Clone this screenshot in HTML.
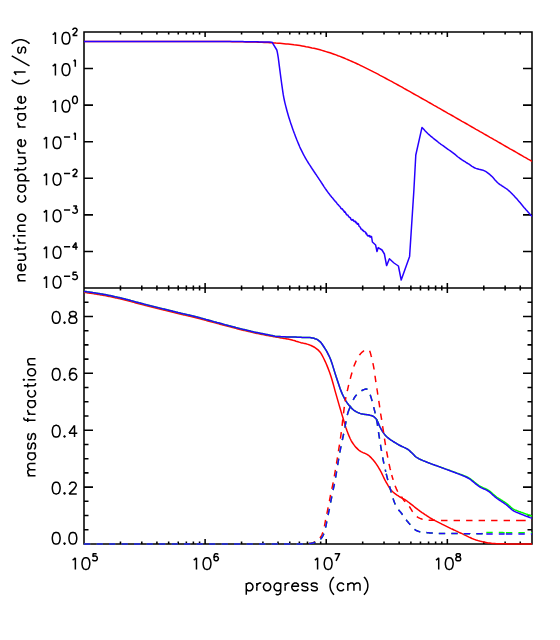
<!DOCTYPE html>
<html><head><meta charset="utf-8"><title>plot</title><style>html,body{margin:0;padding:0;background:#fff;font-family:"Liberation Sans",sans-serif}svg{display:block}</style></head><body><svg width="560" height="640" viewBox="0 0 560 640">
<rect width="560" height="640" fill="#fff"/>
<defs><clipPath id="c1"><rect x="84.0" y="32.0" width="448.0" height="256.0"/></clipPath><clipPath id="c2"><rect x="84.0" y="288.0" width="448.0" height="257.0"/></clipPath></defs>
<path d="M84.00 32.00H532.00V544.00H84.00ZM84.00 288.00H532.00M84.00 32.00v5.10M84.00 282.90v10.20M84.00 544.00v-5.10M120.46 32.00v2.56M120.46 285.44v5.12M120.46 544.00v-2.56M141.79 32.00v2.56M141.79 285.44v5.12M141.79 544.00v-2.56M156.92 32.00v2.56M156.92 285.44v5.12M156.92 544.00v-2.56M168.66 32.00v2.56M168.66 285.44v5.12M168.66 544.00v-2.56M178.25 32.00v2.56M178.25 285.44v5.12M178.25 544.00v-2.56M186.35 32.00v2.56M186.35 285.44v5.12M186.35 544.00v-2.56M193.38 32.00v2.56M193.38 285.44v5.12M193.38 544.00v-2.56M199.57 32.00v2.56M199.57 285.44v5.12M199.57 544.00v-2.56M205.11 32.00v5.10M205.11 282.90v10.20M205.11 544.00v-5.10M241.57 32.00v2.56M241.57 285.44v5.12M241.57 544.00v-2.56M262.90 32.00v2.56M262.90 285.44v5.12M262.90 544.00v-2.56M278.03 32.00v2.56M278.03 285.44v5.12M278.03 544.00v-2.56M289.77 32.00v2.56M289.77 285.44v5.12M289.77 544.00v-2.56M299.36 32.00v2.56M299.36 285.44v5.12M299.36 544.00v-2.56M307.47 32.00v2.56M307.47 285.44v5.12M307.47 544.00v-2.56M314.49 32.00v2.56M314.49 285.44v5.12M314.49 544.00v-2.56M320.69 32.00v2.56M320.69 285.44v5.12M320.69 544.00v-2.56M326.23 32.00v5.10M326.23 282.90v10.20M326.23 544.00v-5.10M362.69 32.00v2.56M362.69 285.44v5.12M362.69 544.00v-2.56M384.02 32.00v2.56M384.02 285.44v5.12M384.02 544.00v-2.56M399.15 32.00v2.56M399.15 285.44v5.12M399.15 544.00v-2.56M410.89 32.00v2.56M410.89 285.44v5.12M410.89 544.00v-2.56M420.48 32.00v2.56M420.48 285.44v5.12M420.48 544.00v-2.56M428.58 32.00v2.56M428.58 285.44v5.12M428.58 544.00v-2.56M435.61 32.00v2.56M435.61 285.44v5.12M435.61 544.00v-2.56M441.80 32.00v2.56M441.80 285.44v5.12M441.80 544.00v-2.56M447.34 32.00v5.10M447.34 282.90v10.20M447.34 544.00v-5.10M483.80 32.00v2.56M483.80 285.44v5.12M483.80 544.00v-2.56M505.13 32.00v2.56M505.13 285.44v5.12M505.13 544.00v-2.56M520.26 32.00v2.56M520.26 285.44v5.12M520.26 544.00v-2.56M532.00 32.00v2.56M532.00 285.44v5.12M532.00 544.00v-2.56M84.00 32.00h9.00M532.00 32.00h-9.00M84.00 68.57h9.00M532.00 68.57h-9.00M84.00 105.14h9.00M532.00 105.14h-9.00M84.00 141.71h9.00M532.00 141.71h-9.00M84.00 178.29h9.00M532.00 178.29h-9.00M84.00 214.86h9.00M532.00 214.86h-9.00M84.00 251.43h9.00M532.00 251.43h-9.00M84.00 288.00h9.00M532.00 288.00h-9.00M84.00 544.00h9.00M532.00 544.00h-9.00M84.00 529.78h4.50M532.00 529.78h-4.50M84.00 515.56h4.50M532.00 515.56h-4.50M84.00 501.33h4.50M532.00 501.33h-4.50M84.00 487.11h9.00M532.00 487.11h-9.00M84.00 472.89h4.50M532.00 472.89h-4.50M84.00 458.67h4.50M532.00 458.67h-4.50M84.00 444.44h4.50M532.00 444.44h-4.50M84.00 430.22h9.00M532.00 430.22h-9.00M84.00 416.00h4.50M532.00 416.00h-4.50M84.00 401.78h4.50M532.00 401.78h-4.50M84.00 387.56h4.50M532.00 387.56h-4.50M84.00 373.33h9.00M532.00 373.33h-9.00M84.00 359.11h4.50M532.00 359.11h-4.50M84.00 344.89h4.50M532.00 344.89h-4.50M84.00 330.67h4.50M532.00 330.67h-4.50M84.00 316.44h9.00M532.00 316.44h-9.00M84.00 302.22h4.50M532.00 302.22h-4.50M84.00 288.00h4.50M532.00 288.00h-4.50" fill="none" stroke="#000" stroke-width="1.55" stroke-linecap="butt" stroke-linejoin="miter"/>
<path d="M84.0 41.4L86.0 41.4L88.0 41.4L90.0 41.4L92.0 41.4L94.0 41.4L96.0 41.4L98.0 41.4L100.0 41.4L102.0 41.4L104.0 41.4L106.0 41.4L108.0 41.4L110.0 41.4L112.0 41.4L114.0 41.4L116.0 41.4L118.0 41.4L120.0 41.4L122.0 41.4L124.0 41.4L126.0 41.4L128.0 41.4L130.0 41.4L132.0 41.4L134.0 41.4L136.0 41.4L138.0 41.4L140.0 41.4L142.0 41.4L144.0 41.4L146.0 41.4L148.0 41.4L150.0 41.4L152.0 41.4L154.0 41.4L156.0 41.4L158.0 41.4L160.0 41.4L162.0 41.4L164.0 41.4L166.0 41.4L168.0 41.4L170.0 41.4L172.0 41.4L174.0 41.4L176.0 41.4L178.0 41.4L180.0 41.4L182.0 41.4L184.0 41.4L186.0 41.4L188.0 41.4L190.0 41.4L192.0 41.4L194.0 41.5L196.0 41.5L198.0 41.5L200.0 41.5L202.0 41.5L204.0 41.5L206.0 41.5L208.0 41.5L210.0 41.5L212.0 41.5L214.0 41.5L216.0 41.5L218.0 41.5L220.0 41.6L222.0 41.6L224.0 41.6L226.0 41.6L228.0 41.6L230.0 41.6L232.0 41.7L234.0 41.7L236.0 41.7L238.0 41.7L240.0 41.8L242.0 41.8L244.0 41.8L246.0 41.9L248.0 41.9L250.0 42.0L252.0 42.0L254.0 42.1L256.0 42.1L258.0 42.2L260.0 42.3L262.0 42.3L264.0 42.4L266.0 42.5L268.0 42.6L270.0 42.7L272.0 42.8L274.0 42.9L276.0 43.1L278.0 43.2L280.0 43.3L282.0 43.5L284.0 43.7L286.0 43.9L288.0 44.1L290.0 44.3L292.0 44.5L294.0 44.8L296.0 45.0L298.0 45.3L300.0 45.6L302.0 45.9L304.0 46.3L306.0 46.7L308.0 47.0L310.0 47.4L312.0 47.9L314.0 48.3L316.0 48.8L318.0 49.3L320.0 49.8L322.0 50.4L324.0 51.0L326.0 51.6L328.0 52.2L330.0 52.8L332.0 53.5L334.0 54.2L336.0 54.9L338.0 55.7L340.0 56.4L342.0 57.2L344.0 58.0L346.0 58.9L348.0 59.7L350.0 60.6L352.0 61.5L354.0 62.4L356.0 63.3L358.0 64.2L360.0 65.2L362.0 66.1L364.0 67.1L366.0 68.1L368.0 69.1L370.0 70.1L372.0 71.1L374.0 72.2L376.0 73.2L378.0 74.2L380.0 75.3L382.0 76.3L384.0 77.4L386.0 78.5L388.0 79.6L390.0 80.7L392.0 81.7L394.0 82.8L396.0 83.9L398.0 85.0L400.0 86.1L402.0 87.2L404.0 88.4L406.0 89.5L408.0 90.6L410.0 91.7L412.0 92.8L414.0 94.0L416.0 95.1L418.0 96.2L420.0 97.3L422.0 98.5L424.0 99.6L426.0 100.7L428.0 101.9L430.0 103.0L432.0 104.1L434.0 105.3L436.0 106.4L438.0 107.6L440.0 108.7L442.0 109.8L444.0 111.0L446.0 112.1L448.0 113.3L450.0 114.4L452.0 115.5L454.0 116.7L456.0 117.8L458.0 119.0L460.0 120.1L462.0 121.3L464.0 122.4L466.0 123.5L468.0 124.7L470.0 125.8L472.0 127.0L474.0 128.1L476.0 129.3L478.0 130.4L480.0 131.6L482.0 132.7L484.0 133.9L486.0 135.0L488.0 136.1L490.0 137.3L492.0 138.4L494.0 139.6L496.0 140.7L498.0 141.9L500.0 143.0L502.0 144.2L504.0 145.3L506.0 146.5L508.0 147.6L510.0 148.8L512.0 149.9L514.0 151.0L516.0 152.2L518.0 153.3L520.0 154.5L522.0 155.6L524.0 156.8L526.0 157.9L528.0 159.1L530.0 160.2L532.0 161.4" fill="none" stroke="#ff0000" stroke-width="1.50" stroke-linejoin="round" stroke-linecap="butt" clip-path="url(#c1)"/>
<path d="M84.0 41.5L85.0 41.5L86.0 41.5L87.0 41.5L88.0 41.5L89.0 41.5L90.0 41.5L91.0 41.5L92.0 41.5L93.0 41.5L94.0 41.5L95.0 41.5L96.0 41.5L97.0 41.5L98.0 41.5L99.0 41.5L100.0 41.5L101.0 41.5L102.0 41.5L103.0 41.5L104.0 41.5L105.0 41.5L106.0 41.5L107.0 41.5L108.0 41.5L109.0 41.5L110.0 41.5L111.0 41.5L112.0 41.5L113.0 41.5L114.0 41.5L115.0 41.5L116.0 41.5L117.0 41.5L118.0 41.5L119.0 41.5L120.0 41.5L121.0 41.5L122.0 41.5L123.0 41.5L124.0 41.5L125.0 41.5L126.0 41.5L127.0 41.5L128.0 41.5L129.0 41.5L130.0 41.5L131.0 41.5L132.0 41.5L133.0 41.5L134.0 41.5L135.0 41.5L136.0 41.5L137.0 41.5L138.0 41.5L139.0 41.5L140.0 41.5L141.0 41.5L142.0 41.5L143.0 41.5L144.0 41.5L145.0 41.5L146.0 41.5L147.0 41.5L148.0 41.5L149.0 41.5L150.0 41.5L151.0 41.5L152.0 41.5L153.0 41.5L154.0 41.5L155.0 41.5L156.0 41.5L157.0 41.5L158.0 41.5L159.0 41.5L160.0 41.5L161.0 41.5L162.0 41.5L163.0 41.5L164.0 41.5L165.0 41.5L166.0 41.5L167.0 41.5L168.0 41.5L169.0 41.5L170.0 41.5L171.0 41.5L172.0 41.5L173.0 41.5L174.0 41.5L175.0 41.5L176.0 41.5L177.0 41.5L178.0 41.5L179.0 41.5L180.0 41.5L181.0 41.5L182.0 41.5L183.0 41.5L184.0 41.5L185.0 41.5L186.0 41.5L187.0 41.5L188.0 41.5L189.0 41.5L190.0 41.5L191.0 41.5L192.0 41.5L193.0 41.5L194.0 41.5L195.0 41.5L196.0 41.5L197.0 41.5L198.0 41.5L199.0 41.5L200.0 41.5L201.0 41.5L202.0 41.5L203.0 41.5L204.0 41.5L205.0 41.5L206.0 41.5L207.0 41.5L208.0 41.5L209.0 41.5L210.0 41.5L211.0 41.5L212.0 41.5L213.0 41.5L214.0 41.5L215.0 41.5L216.0 41.5L217.0 41.5L218.0 41.5L219.0 41.5L220.0 41.5L221.0 41.5L222.0 41.5L223.0 41.5L224.0 41.5L225.0 41.6L226.0 41.6L227.0 41.6L228.0 41.6L229.0 41.6L230.0 41.6L231.0 41.6L232.0 41.6L233.0 41.6L234.0 41.6L235.0 41.6L236.0 41.6L237.0 41.6L238.0 41.6L239.0 41.6L240.0 41.6L241.0 41.6L242.0 41.6L243.0 41.6L244.0 41.7L245.0 41.7L246.0 41.7L247.0 41.7L248.0 41.7L249.0 41.7L250.0 41.7L251.0 41.7L252.0 41.7L253.0 41.8L254.0 41.8L255.0 41.8L256.0 41.8L257.0 41.8L258.0 41.8L259.0 41.9L260.0 41.9L261.0 41.9L262.0 41.9L263.0 41.9L264.0 42.0L265.0 42.0L266.0 42.0L267.0 42.0L268.0 42.1L269.0 42.1L270.0 42.1L271.0 42.2L272.0 42.2L276.8 50.0L277.3 52.2L277.8 54.8L278.3 58.0L278.8 61.9L279.3 65.8L279.8 69.6L280.3 73.5L280.8 77.3L281.3 81.0L281.8 84.6L282.3 88.1L282.8 91.7L283.3 94.9L283.8 97.6L284.3 100.0L284.8 102.3L285.3 104.4L285.8 106.4L286.3 108.3L286.8 110.2L287.3 112.0L287.8 113.8L288.3 115.5L288.8 117.2L289.3 118.8L289.8 120.3L290.3 121.9L290.8 123.4L291.3 124.8L291.8 126.3L292.3 127.7L292.8 129.2L293.3 130.6L293.8 131.9L294.3 133.3L294.8 134.6L295.3 135.9L295.8 137.2L296.3 138.5L296.8 139.8L297.3 141.0L297.8 142.2L298.3 143.4L298.8 144.6L299.3 145.8L299.8 147.0L300.3 148.1L300.8 149.2L301.3 150.2L301.8 151.2L302.3 152.2L302.8 153.2L303.3 154.2L303.8 155.1L304.3 156.0L304.8 156.9L305.3 157.8L305.8 158.7L306.3 159.5L306.8 160.4L307.3 161.2L307.8 162.0L308.3 162.8L308.8 163.6L309.3 164.4L309.8 165.1L310.3 165.9L310.8 166.7L311.3 167.5L311.8 168.2L312.3 169.0L312.8 169.7L313.3 170.5L313.8 171.2L314.3 172.0L314.8 172.7L315.3 173.5L315.8 174.2L316.3 174.9L316.8 175.7L317.3 176.4L317.8 177.2L318.3 177.9L318.8 178.7L319.3 179.4L319.8 180.2L320.3 180.9L320.8 181.7L321.3 182.5L321.8 183.2L322.3 184.0L322.8 184.8L323.3 185.5L323.8 186.3L324.3 187.1L324.8 187.8L325.3 188.6L325.8 189.3L326.3 190.0L326.8 190.7L327.3 191.4L327.8 192.1L328.3 192.8L328.8 193.4L329.3 194.1L329.8 194.7L330.3 195.4L330.8 196.0L331.3 196.6L331.8 197.3L332.3 197.8L332.8 198.3L333.3 199.0L333.8 199.6L334.3 200.3L334.8 200.8L335.3 201.5L335.8 201.9L336.3 202.4L336.8 203.1L337.3 204.0L337.8 204.4L338.3 204.8L338.8 205.4L339.3 206.1L339.8 206.4L340.3 207.1L340.8 208.1L341.3 208.6L341.8 209.0L342.3 208.8L342.8 209.8L343.3 210.1L343.8 211.2L344.0 210.8L344.5 212.2L345.0 211.8L345.5 212.6L346.0 214.0L346.5 214.1L347.0 215.1L347.5 215.1L348.0 215.3L348.5 216.5L349.0 216.9L349.5 217.4L350.0 217.5L350.5 217.9L351.0 219.4L351.5 219.8L352.0 220.2L352.5 219.7L353.0 219.6L353.5 220.7L354.0 221.3L354.5 221.6L355.0 221.1L355.5 221.8L356.0 222.8L356.5 222.3L357.0 223.7L357.5 224.3L358.0 223.6L358.5 224.1L359.0 226.2L359.5 226.6L360.0 226.9L360.5 227.7L361.0 229.1L361.5 229.0L362.0 229.4L362.5 230.4L363.0 230.2L363.5 231.0L364.0 231.6L364.5 231.4L365.0 231.8L365.5 232.1L366.0 233.7L366.5 233.2L367.0 235.0L367.5 235.2L368.0 236.1L368.5 236.1L369.0 235.5L369.5 235.7L370.0 237.0L370.5 236.2L371.0 237.2L371.5 236.5L371.6 237.0L372.4 242.0L375.6 245.0L377.0 251.6L378.2 247.6L382.0 250.0L384.4 254.0L386.6 265.6L389.4 258.8L394.0 263.0L398.4 266.0L401.2 280.0L409.6 256.4L413.9 190.0L415.8 155.0L422.0 127.4L423.0 128.5L424.0 129.6L425.0 130.7L426.0 131.7L427.0 132.7L428.0 133.7L429.0 134.6L430.0 135.5L431.0 136.4L432.0 137.2L433.0 138.0L434.0 138.8L435.0 139.6L436.0 140.4L437.0 141.2L438.0 142.0L439.0 142.8L440.0 143.5L441.0 144.3L442.0 145.0L443.0 145.7L444.0 146.4L445.0 147.2L446.0 147.9L447.0 148.6L448.0 149.3L449.0 150.0L450.0 150.7L451.0 151.4L452.0 152.1L453.0 152.8L454.0 153.6L455.0 154.4L456.0 155.3L457.0 156.2L458.0 157.0L459.0 157.7L460.0 158.5L461.0 159.1L462.0 159.8L463.0 160.5L464.0 161.1L465.0 161.7L466.0 162.4L467.0 163.0L468.0 163.6L469.0 164.2L470.0 164.9L471.0 165.6L472.0 166.3L473.0 166.9L474.0 167.5L475.0 168.0L476.0 168.4L477.0 168.7L478.0 169.0L479.0 169.3L480.0 169.5L481.0 169.7L482.0 169.9L483.0 170.2L484.0 170.6L485.0 171.1L486.0 171.7L487.0 172.3L488.0 173.1L489.0 173.9L490.0 174.7L491.0 175.6L492.0 176.5L493.0 177.6L494.0 178.7L495.0 179.9L496.0 181.0L497.0 182.1L498.0 183.0L499.0 183.8L500.0 184.6L501.0 185.2L502.0 185.9L503.0 186.5L504.0 187.2L505.0 187.8L506.0 188.5L507.0 189.2L508.0 190.0L509.0 190.9L510.0 191.8L511.0 192.7L512.0 193.7L513.0 194.8L514.0 195.8L515.0 196.9L516.0 198.0L517.0 199.1L518.0 200.3L519.0 201.4L520.0 202.6L521.0 203.8L522.0 205.0L523.0 206.2L524.0 207.4L525.0 208.5L526.0 209.7L527.0 210.8L528.0 211.9L529.0 213.1L530.0 214.2L531.0 215.3L532.0 216.4" fill="none" stroke="#2600ff" stroke-width="1.50" stroke-linejoin="round" stroke-linecap="butt" clip-path="url(#c1)"/>
<path d="M84.0 292.4L85.0 292.5L86.0 292.6L87.0 292.8L88.0 292.9L89.0 293.0L90.0 293.2L91.0 293.3L92.0 293.4L93.0 293.6L94.0 293.7L95.0 293.9L96.0 294.1L97.0 294.2L98.0 294.4L99.0 294.5L100.0 294.7L101.0 294.9L102.0 295.0L103.0 295.2L104.0 295.4L105.0 295.6L106.0 295.8L107.0 296.0L108.0 296.2L109.0 296.4L110.0 296.6L111.0 296.8L112.0 297.0L113.0 297.2L114.0 297.4L115.0 297.7L116.0 297.9L117.0 298.1L118.0 298.4L119.0 298.6L120.0 298.8L121.0 299.1L122.0 299.3L123.0 299.6L124.0 299.8L125.0 300.0L126.0 300.3L127.0 300.5L128.0 300.8L129.0 301.1L130.0 301.3L131.0 301.6L132.0 301.9L133.0 302.1L134.0 302.4L135.0 302.7L136.0 303.0L137.0 303.2L138.0 303.5L139.0 303.8L140.0 304.0L141.0 304.3L142.0 304.6L143.0 304.8L144.0 305.1L145.0 305.4L146.0 305.6L147.0 305.9L148.0 306.1L149.0 306.4L150.0 306.6L151.0 306.9L152.0 307.1L153.0 307.4L154.0 307.6L155.0 307.9L156.0 308.1L157.0 308.4L158.0 308.6L159.0 308.9L160.0 309.1L161.0 309.4L162.0 309.6L163.0 309.9L164.0 310.1L165.0 310.3L166.0 310.6L167.0 310.8L168.0 311.1L169.0 311.3L170.0 311.6L171.0 311.8L172.0 312.0L173.0 312.3L174.0 312.5L175.0 312.7L176.0 313.0L177.0 313.2L178.0 313.5L179.0 313.7L180.0 313.9L181.0 314.2L182.0 314.4L183.0 314.7L184.0 314.9L185.0 315.1L186.0 315.4L187.0 315.6L188.0 315.9L189.0 316.1L190.0 316.3L191.0 316.6L192.0 316.8L193.0 317.1L194.0 317.3L195.0 317.5L196.0 317.8L197.0 318.1L198.0 318.3L199.0 318.6L200.0 318.8L201.0 319.1L202.0 319.4L203.0 319.6L204.0 319.9L205.0 320.1L206.0 320.4L207.0 320.7L208.0 321.0L209.0 321.2L210.0 321.5L211.0 321.8L212.0 322.0L213.0 322.3L214.0 322.6L215.0 322.8L216.0 323.1L217.0 323.4L218.0 323.6L219.0 323.9L220.0 324.2L221.0 324.4L222.0 324.7L223.0 325.0L224.0 325.2L225.0 325.5L226.0 325.8L227.0 326.1L228.0 326.3L229.0 326.6L230.0 326.8L231.0 327.1L232.0 327.4L233.0 327.6L234.0 327.9L235.0 328.1L236.0 328.4L237.0 328.7L238.0 328.9L239.0 329.2L240.0 329.4L241.0 329.7L242.0 329.9L243.0 330.2L244.0 330.4L245.0 330.6L246.0 330.9L247.0 331.1L248.0 331.4L249.0 331.6L250.0 331.8L251.0 332.1L252.0 332.3L253.0 332.5L254.0 332.8L255.0 333.0L256.0 333.2L257.0 333.4L258.0 333.6L259.0 333.8L260.0 334.0L261.0 334.2L262.0 334.4L263.0 334.6L264.0 334.8L265.0 335.0L266.0 335.2L267.0 335.4L268.0 335.6L269.0 335.8L270.0 335.9L271.0 336.1L272.0 336.3L273.0 336.5L274.0 336.7L275.0 336.8L276.0 337.0L277.0 337.2L278.0 337.3L279.0 337.5L280.0 337.7L281.0 337.9L282.0 338.0L283.0 338.2L284.0 338.4L285.0 338.6L286.0 338.8L287.0 339.0L288.0 339.1L289.0 339.3L290.0 339.6L291.0 339.8L292.0 340.0L293.0 340.3L294.0 340.5L295.0 340.8L296.0 341.2L297.0 341.5L298.0 341.8L299.0 342.1L300.0 342.4L301.0 342.7L302.0 342.9L303.0 343.1L304.0 343.4L305.0 343.6L306.0 343.8L307.0 344.1L308.0 344.4L309.0 344.7L310.0 345.1L311.0 345.5L312.0 346.0L313.0 346.5L314.0 347.0L315.0 347.6L316.0 348.3L317.0 349.1L318.0 349.9L319.0 350.9L320.0 352.0L321.0 353.4L322.0 355.1L323.0 357.0L324.0 359.0L325.0 361.1L326.0 363.3L327.0 365.6L328.0 368.1L329.0 370.7L330.0 373.5L331.0 376.5L332.0 379.8L333.0 383.3L334.0 386.9L335.0 390.6L336.0 394.1L337.0 397.6L338.0 401.1L339.0 404.6L340.0 408.0L341.0 411.4L342.0 414.7L343.0 418.0L344.0 421.5L345.0 424.9L346.0 428.0L347.0 430.8L348.0 433.4L349.0 435.9L350.0 438.2L351.0 440.3L352.0 442.0L353.0 443.5L354.0 444.9L355.0 446.2L356.0 447.4L357.0 448.4L358.0 449.4L359.0 450.3L360.0 451.0L361.0 451.6L362.0 452.1L363.0 452.6L364.0 453.0L365.0 453.4L366.0 453.9L367.0 454.4L368.0 455.0L369.0 455.7L370.0 456.6L371.0 457.6L372.0 458.7L373.0 459.8L374.0 461.0L375.0 462.3L376.0 463.6L377.0 465.1L378.0 466.7L379.0 468.3L380.0 470.0L381.0 471.8L382.0 473.9L383.0 476.0L384.0 478.1L385.0 480.2L386.0 482.0L387.0 483.7L388.0 485.4L389.0 487.0L390.0 488.5L391.0 489.9L392.0 491.0L393.0 492.0L394.0 492.8L395.0 493.7L396.0 494.4L397.0 495.1L398.0 495.7L399.0 496.4L400.0 497.0L401.0 497.6L402.0 498.1L403.0 498.6L404.0 499.1L405.0 499.7L406.0 500.3L407.0 501.0L408.0 501.8L409.0 502.5L410.0 503.3L411.0 504.1L412.0 504.9L413.0 505.7L414.0 506.5L415.0 507.3L416.0 508.1L417.0 508.9L418.0 509.7L419.0 510.4L420.0 511.2L421.0 511.9L422.0 512.6L423.0 513.2L424.0 513.9L425.0 514.6L426.0 515.2L427.0 515.9L428.0 516.5L429.0 517.2L430.0 517.8L431.0 518.4L432.0 519.0L433.0 519.6L434.0 520.1L435.0 520.7L436.0 521.2L437.0 521.7L438.0 522.2L439.0 522.7L440.0 523.2L441.0 523.7L442.0 524.2L443.0 524.6L444.0 525.1L445.0 525.6L446.0 526.1L447.0 526.6L448.0 527.1L449.0 527.6L450.0 528.1L451.0 528.6L452.0 529.0L453.0 529.5L454.0 530.0L455.0 530.4L456.0 530.9L457.0 531.3L458.0 531.8L459.0 532.3L460.0 532.8L461.0 533.2L462.0 533.7L463.0 534.2L464.0 534.7L465.0 535.1L466.0 535.6L467.0 536.1L468.0 536.6L469.0 537.1L470.0 537.5L471.0 538.0L472.0 538.5L473.0 538.9L474.0 539.3L475.0 539.6L476.0 540.0L477.0 540.3L478.0 540.6L479.0 540.9L480.0 541.1L481.0 541.4L482.0 541.6L483.0 541.9L484.0 542.1L485.0 542.3L486.0 542.5L487.0 542.7L488.0 542.9L489.0 543.0L490.0 543.1L491.0 543.2L492.0 543.4L493.0 543.5L494.0 543.5L495.0 543.6L496.0 543.7L497.0 543.7L498.0 543.7L499.0 543.7L500.0 543.8L501.0 543.8L502.0 543.8L503.0 543.8L504.0 543.8L505.0 543.8L506.0 543.8L507.0 543.9L508.0 543.9L509.0 543.9L510.0 543.9L511.0 543.9L512.0 543.9L513.0 543.9L514.0 543.9L515.0 543.9L516.0 543.9L517.0 544.0L518.0 544.0L519.0 544.0L520.0 544.0L521.0 544.0L522.0 544.0L523.0 544.0L524.0 544.0L525.0 544.0L526.0 544.0L527.0 544.0L528.0 544.0L529.0 544.0L530.0 544.0L531.0 544.0L532.0 544.0" fill="none" stroke="#ff0000" stroke-width="1.50" stroke-linejoin="round" stroke-linecap="butt" clip-path="url(#c2)"/>
<path d="M84.0 291.4L85.0 291.5L86.0 291.6L87.0 291.8L88.0 291.9L89.0 292.0L90.0 292.2L91.0 292.3L92.0 292.4L93.0 292.6L94.0 292.7L95.0 292.9L96.0 293.1L97.0 293.2L98.0 293.4L99.0 293.5L100.0 293.7L101.0 293.9L102.0 294.0L103.0 294.2L104.0 294.4L105.0 294.6L106.0 294.8L107.0 295.0L108.0 295.2L109.0 295.4L110.0 295.6L111.0 295.8L112.0 296.0L113.0 296.2L114.0 296.4L115.0 296.7L116.0 296.9L117.0 297.1L118.0 297.4L119.0 297.6L120.0 297.8L121.0 298.1L122.0 298.3L123.0 298.6L124.0 298.8L125.0 299.0L126.0 299.3L127.0 299.5L128.0 299.8L129.0 300.1L130.0 300.3L131.0 300.6L132.0 300.9L133.0 301.1L134.0 301.4L135.0 301.7L136.0 302.0L137.0 302.2L138.0 302.5L139.0 302.8L140.0 303.0L141.0 303.3L142.0 303.6L143.0 303.8L144.0 304.1L145.0 304.4L146.0 304.6L147.0 304.9L148.0 305.1L149.0 305.4L150.0 305.6L151.0 305.9L152.0 306.1L153.0 306.4L154.0 306.6L155.0 306.9L156.0 307.1L157.0 307.4L158.0 307.6L159.0 307.9L160.0 308.1L161.0 308.4L162.0 308.6L163.0 308.9L164.0 309.1L165.0 309.3L166.0 309.6L167.0 309.8L168.0 310.1L169.0 310.3L170.0 310.6L171.0 310.8L172.0 311.0L173.0 311.3L174.0 311.5L175.0 311.7L176.0 312.0L177.0 312.2L178.0 312.5L179.0 312.7L180.0 312.9L181.0 313.2L182.0 313.4L183.0 313.7L184.0 313.9L185.0 314.1L186.0 314.4L187.0 314.6L188.0 314.9L189.0 315.1L190.0 315.3L191.0 315.6L192.0 315.8L193.0 316.1L194.0 316.3L195.0 316.5L196.0 316.8L197.0 317.1L198.0 317.3L199.0 317.6L200.0 317.8L201.0 318.1L202.0 318.4L203.0 318.6L204.0 318.9L205.0 319.2L206.0 319.5L207.0 319.7L208.0 320.0L209.0 320.3L210.0 320.6L211.0 320.8L212.0 321.1L213.0 321.4L214.0 321.7L215.0 321.9L216.0 322.2L217.0 322.5L218.0 322.7L219.0 323.0L220.0 323.3L221.0 323.6L222.0 323.8L223.0 324.1L224.0 324.4L225.0 324.7L226.0 324.9L227.0 325.2L228.0 325.5L229.0 325.8L230.0 326.0L231.0 326.3L232.0 326.6L233.0 326.8L234.0 327.1L235.0 327.3L236.0 327.6L237.0 327.9L238.0 328.1L239.0 328.4L240.0 328.6L241.0 328.9L242.0 329.1L243.0 329.4L244.0 329.6L245.0 329.8L246.0 330.1L247.0 330.3L248.0 330.6L249.0 330.8L250.0 331.0L251.0 331.3L252.0 331.5L253.0 331.7L254.0 332.0L255.0 332.2L256.0 332.4L257.0 332.6L258.0 332.8L259.0 333.0L260.0 333.2L261.0 333.4L262.0 333.6L263.0 333.8L264.0 334.0L265.0 334.2L266.0 334.4L267.0 334.6L268.0 334.8L269.0 335.0L270.0 335.2L271.0 335.4L272.0 335.6L273.0 335.8L274.0 336.1L275.0 336.3L276.0 336.4L277.0 336.5L278.0 336.5L279.0 336.6L280.0 336.6L281.0 336.7L282.0 336.7L283.0 336.8L284.0 336.8L285.0 336.8L286.0 336.9L287.0 336.9L288.0 336.9L289.0 336.9L290.0 336.9L291.0 337.0L292.0 337.0L293.0 337.0L294.0 337.1L295.0 337.1L296.0 337.1L297.0 337.2L298.0 337.2L299.0 337.3L300.0 337.3L301.0 337.3L302.0 337.4L303.0 337.4L304.0 337.4L305.0 337.4L306.0 337.4L307.0 337.5L308.0 337.5L309.0 337.5L310.0 337.6L311.0 337.7L312.0 337.9L313.0 338.1L314.0 338.3L315.0 338.7L316.0 339.0L317.0 339.4L318.0 340.0L319.0 340.8L320.0 341.6L321.0 342.6L322.0 344.0L323.0 345.5L324.0 347.0L325.0 348.6L326.0 350.2L327.0 351.9L328.0 353.8L329.0 355.8L330.0 358.0L331.0 360.5L332.0 363.4L333.0 366.6L334.0 369.9L335.0 373.1L336.0 376.3L337.0 379.2L338.0 382.3L339.0 385.3L340.0 388.2L341.0 390.9L342.0 393.4L343.0 395.5L344.0 397.5L345.0 399.4L346.0 401.1L347.0 402.6L348.0 404.0L349.0 405.3L350.0 406.5L351.0 407.6L352.0 408.6L353.0 409.5L354.0 410.3L355.0 411.0L356.0 411.6L357.0 412.1L358.0 412.6L359.0 413.0L360.0 413.4L361.0 413.7L362.0 413.9L363.0 414.1L364.0 414.2L365.0 414.4L366.0 414.5L367.0 414.7L368.0 414.8L369.0 415.0L370.0 415.3L371.0 415.5L372.0 415.8L373.0 416.2L374.0 416.8L375.0 417.7L376.0 418.7L377.0 420.2L378.0 422.4L379.0 424.9L380.0 427.0L381.0 428.8L382.0 430.5L383.0 432.1L384.0 433.6L385.0 434.9L386.0 436.0L387.0 437.0L388.0 437.8L389.0 438.6L390.0 439.4L391.0 440.1L392.0 440.7L393.0 441.4L394.0 442.0L395.0 442.6L396.0 443.2L397.0 443.8L398.0 444.4L399.0 445.0L400.0 445.5L401.0 446.0L402.0 446.5L403.0 446.9L404.0 447.4L405.0 447.8L406.0 448.3L407.0 448.9L408.0 449.5L409.0 450.2L410.0 451.1L411.0 452.1L412.0 453.0L413.0 454.0L414.0 455.1L415.0 456.2L416.0 457.0L417.0 457.7L418.0 458.2L419.0 458.8L420.0 459.3L421.0 459.7L422.0 460.1L423.0 460.6L424.0 461.0L425.0 461.4L426.0 461.8L427.0 462.2L428.0 462.6L429.0 463.0L430.0 463.4L431.0 463.8L432.0 464.1L433.0 464.5L434.0 464.8L435.0 465.2L436.0 465.5L437.0 465.9L438.0 466.2L439.0 466.6L440.0 466.9L441.0 467.3L442.0 467.7L443.0 468.0L444.0 468.4L445.0 468.7L446.0 469.1L447.0 469.4L448.0 469.8L449.0 470.1L450.0 470.5L451.0 470.9L452.0 471.2L453.0 471.6L454.0 472.0L455.0 472.3L456.0 472.7L457.0 473.1L458.0 473.4L459.0 473.8L460.0 474.2L461.0 474.5L462.0 474.9L463.0 475.3L464.0 475.7L465.0 476.1L466.0 476.5L467.0 477.0L468.0 477.5L469.0 478.0L470.0 478.7L471.0 479.4L472.0 480.2L473.0 480.9L474.0 481.8L475.0 482.6L476.0 483.4L477.0 484.2L478.0 484.9L479.0 485.6L480.0 486.2L481.0 486.7L482.0 487.2L483.0 487.7L484.0 488.1L485.0 488.5L486.0 489.0L487.0 489.5L488.0 490.0L489.0 490.7L490.0 491.4L491.0 492.2L492.0 493.1L493.0 494.0L494.0 494.8L495.0 495.7L496.0 496.5L497.0 497.3L498.0 498.0L499.0 498.6L500.0 499.2L501.0 499.8L502.0 500.4L503.0 501.1L504.0 501.7L505.0 502.3L506.0 503.0L507.0 503.8L508.0 504.6L509.0 505.5L510.0 506.4L511.0 507.3L512.0 508.1L513.0 508.8L514.0 509.4L515.0 509.9L516.0 510.3L517.0 510.7L518.0 511.1L519.0 511.5L520.0 511.8L521.0 512.2L522.0 512.5L523.0 512.9L524.0 513.3L525.0 513.6L526.0 514.0L527.0 514.3L528.0 514.7L529.0 515.0L530.0 515.4L531.0 515.7L532.0 516.0" fill="none" stroke="#00ff00" stroke-width="1.50" stroke-linejoin="round" stroke-linecap="butt" clip-path="url(#c2)"/>
<path d="M84.0 291.4L85.0 291.5L86.0 291.6L87.0 291.8L88.0 291.9L89.0 292.0L90.0 292.2L91.0 292.3L92.0 292.4L93.0 292.6L94.0 292.7L95.0 292.9L96.0 293.1L97.0 293.2L98.0 293.4L99.0 293.5L100.0 293.7L101.0 293.9L102.0 294.0L103.0 294.2L104.0 294.4L105.0 294.6L106.0 294.8L107.0 295.0L108.0 295.2L109.0 295.4L110.0 295.6L111.0 295.8L112.0 296.0L113.0 296.2L114.0 296.4L115.0 296.7L116.0 296.9L117.0 297.1L118.0 297.4L119.0 297.6L120.0 297.8L121.0 298.1L122.0 298.3L123.0 298.6L124.0 298.8L125.0 299.0L126.0 299.3L127.0 299.5L128.0 299.8L129.0 300.1L130.0 300.3L131.0 300.6L132.0 300.9L133.0 301.1L134.0 301.4L135.0 301.7L136.0 302.0L137.0 302.2L138.0 302.5L139.0 302.8L140.0 303.0L141.0 303.3L142.0 303.6L143.0 303.8L144.0 304.1L145.0 304.4L146.0 304.6L147.0 304.9L148.0 305.1L149.0 305.4L150.0 305.6L151.0 305.9L152.0 306.1L153.0 306.4L154.0 306.6L155.0 306.9L156.0 307.1L157.0 307.4L158.0 307.6L159.0 307.9L160.0 308.1L161.0 308.4L162.0 308.6L163.0 308.9L164.0 309.1L165.0 309.3L166.0 309.6L167.0 309.8L168.0 310.1L169.0 310.3L170.0 310.6L171.0 310.8L172.0 311.0L173.0 311.3L174.0 311.5L175.0 311.7L176.0 312.0L177.0 312.2L178.0 312.5L179.0 312.7L180.0 312.9L181.0 313.2L182.0 313.4L183.0 313.7L184.0 313.9L185.0 314.1L186.0 314.4L187.0 314.6L188.0 314.9L189.0 315.1L190.0 315.3L191.0 315.6L192.0 315.8L193.0 316.1L194.0 316.3L195.0 316.5L196.0 316.8L197.0 317.1L198.0 317.3L199.0 317.6L200.0 317.8L201.0 318.1L202.0 318.4L203.0 318.6L204.0 318.9L205.0 319.2L206.0 319.5L207.0 319.7L208.0 320.0L209.0 320.3L210.0 320.6L211.0 320.8L212.0 321.1L213.0 321.4L214.0 321.7L215.0 321.9L216.0 322.2L217.0 322.5L218.0 322.7L219.0 323.0L220.0 323.3L221.0 323.6L222.0 323.8L223.0 324.1L224.0 324.4L225.0 324.7L226.0 324.9L227.0 325.2L228.0 325.5L229.0 325.8L230.0 326.0L231.0 326.3L232.0 326.6L233.0 326.8L234.0 327.1L235.0 327.3L236.0 327.6L237.0 327.9L238.0 328.1L239.0 328.4L240.0 328.6L241.0 328.9L242.0 329.1L243.0 329.4L244.0 329.6L245.0 329.8L246.0 330.1L247.0 330.3L248.0 330.6L249.0 330.8L250.0 331.0L251.0 331.3L252.0 331.5L253.0 331.7L254.0 332.0L255.0 332.2L256.0 332.4L257.0 332.6L258.0 332.8L259.0 333.0L260.0 333.2L261.0 333.4L262.0 333.6L263.0 333.8L264.0 334.0L265.0 334.2L266.0 334.4L267.0 334.6L268.0 334.8L269.0 335.0L270.0 335.2L271.0 335.4L272.0 335.6L273.0 335.8L274.0 336.1L275.0 336.3L276.0 336.4L277.0 336.5L278.0 336.5L279.0 336.6L280.0 336.6L281.0 336.7L282.0 336.7L283.0 336.8L284.0 336.8L285.0 336.8L286.0 336.9L287.0 336.9L288.0 336.9L289.0 336.9L290.0 336.9L291.0 337.0L292.0 337.0L293.0 337.0L294.0 337.1L295.0 337.1L296.0 337.1L297.0 337.2L298.0 337.2L299.0 337.3L300.0 337.3L301.0 337.3L302.0 337.4L303.0 337.4L304.0 337.4L305.0 337.4L306.0 337.4L307.0 337.5L308.0 337.5L309.0 337.5L310.0 337.6L311.0 337.7L312.0 337.9L313.0 338.1L314.0 338.3L315.0 338.7L316.0 339.0L317.0 339.4L318.0 340.0L319.0 340.8L320.0 341.6L321.0 342.6L322.0 344.0L323.0 345.5L324.0 347.0L325.0 348.6L326.0 350.2L327.0 351.9L328.0 353.8L329.0 355.8L330.0 358.0L331.0 360.5L332.0 363.4L333.0 366.6L334.0 369.9L335.0 373.1L336.0 376.3L337.0 379.2L338.0 382.3L339.0 385.3L340.0 388.2L341.0 390.9L342.0 393.4L343.0 395.5L344.0 397.5L345.0 399.4L346.0 401.1L347.0 402.6L348.0 404.0L349.0 405.3L350.0 406.5L351.0 407.6L352.0 408.6L353.0 409.5L354.0 410.3L355.0 411.0L356.0 411.6L357.0 412.1L358.0 412.6L359.0 413.0L360.0 413.4L361.0 413.7L362.0 413.9L363.0 414.1L364.0 414.2L365.0 414.4L366.0 414.5L367.0 414.7L368.0 414.8L369.0 415.0L370.0 415.3L371.0 415.5L372.0 415.8L373.0 416.2L374.0 416.8L375.0 417.7L376.0 418.7L377.0 420.2L378.0 422.4L379.0 424.9L380.0 427.0L381.0 428.8L382.0 430.5L383.0 432.1L384.0 433.6L385.0 434.9L386.0 436.0L387.0 437.0L388.0 437.8L389.0 438.6L390.0 439.4L391.0 440.1L392.0 440.7L393.0 441.4L394.0 442.0L395.0 442.6L396.0 443.2L397.0 443.8L398.0 444.4L399.0 445.0L400.0 445.5L401.0 446.0L402.0 446.5L403.0 446.9L404.0 447.4L405.0 447.8L406.0 448.3L407.0 448.9L408.0 449.5L409.0 450.2L410.0 451.1L411.0 452.1L412.0 453.0L413.0 454.0L414.0 455.1L415.0 456.2L416.0 457.0L417.0 457.7L418.0 458.2L419.0 458.8L420.0 459.3L421.0 459.7L422.0 460.1L423.0 460.6L424.0 461.0L425.0 461.4L426.0 461.8L427.0 462.2L428.0 462.6L429.0 463.0L430.0 463.4L431.0 463.8L432.0 464.1L433.0 464.5L434.0 464.8L435.0 465.2L436.0 465.5L437.0 465.9L438.0 466.3L439.0 466.6L440.0 467.0L441.0 467.4L442.0 467.7L443.0 468.1L444.0 468.5L445.0 468.9L446.0 469.2L447.0 469.6L448.0 470.0L449.0 470.3L450.0 470.7L451.0 471.1L452.0 471.5L453.0 471.8L454.0 472.2L455.0 472.6L456.0 473.0L457.0 473.4L458.0 473.8L459.0 474.1L460.0 474.5L461.0 474.9L462.0 475.3L463.0 475.7L464.0 476.1L465.0 476.5L466.0 477.0L467.0 477.5L468.0 478.0L469.0 478.6L470.0 479.2L471.0 480.0L472.0 480.8L473.0 481.6L474.0 482.4L475.0 483.3L476.0 484.1L477.0 484.9L478.0 485.7L479.0 486.4L480.0 487.0L481.0 487.6L482.0 488.1L483.0 488.5L484.0 489.0L485.0 489.4L486.0 489.9L487.0 490.4L488.0 491.0L489.0 491.7L490.0 492.4L491.0 493.3L492.0 494.2L493.0 495.1L494.0 496.0L495.0 496.9L496.0 497.7L497.0 498.5L498.0 499.2L499.0 499.9L500.0 500.5L501.0 501.2L502.0 501.8L503.0 502.4L504.0 503.1L505.0 503.8L506.0 504.5L507.0 505.3L508.0 506.2L509.0 507.1L510.0 508.0L511.0 508.9L512.0 509.8L513.0 510.5L514.0 511.1L515.0 511.6L516.0 512.1L517.0 512.5L518.0 512.9L519.0 513.3L520.0 513.7L521.0 514.1L522.0 514.5L523.0 514.9L524.0 515.3L525.0 515.7L526.0 516.1L527.0 516.5L528.0 516.8L529.0 517.2L530.0 517.6L531.0 517.9L532.0 518.3" fill="none" stroke="#2600ff" stroke-width="1.50" stroke-linejoin="round" stroke-linecap="butt" clip-path="url(#c2)"/>
<path d="M84.0 544.0L84.5 544.0L85.0 544.0L85.5 544.0L86.0 544.0L86.5 544.0L87.0 544.0L87.5 544.0L88.0 544.0L88.5 544.0L89.0 544.0L89.5 544.0L90.0 544.0L90.4 544.0M96.5 544.0L97.0 544.0L97.5 544.0L98.0 544.0L98.5 544.0L99.0 544.0L99.5 544.0L100.0 544.0L100.5 544.0L101.0 544.0L101.5 544.0L102.0 544.0L102.5 544.0L102.9 544.0M109.0 544.0L109.5 544.0L110.0 544.0L110.5 544.0L111.0 544.0L111.5 544.0L112.0 544.0L112.5 544.0L113.0 544.0L113.5 544.0L114.0 544.0L114.5 544.0L115.0 544.0L115.4 544.0M121.5 544.0L122.0 544.0L122.5 544.0L123.0 544.0L123.5 544.0L124.0 544.0L124.5 544.0L125.0 544.0L125.5 544.0L126.0 544.0L126.5 544.0L127.0 544.0L127.5 544.0L127.9 544.0M134.0 544.0L134.5 544.0L135.0 544.0L135.5 544.0L136.0 544.0L136.5 544.0L137.0 544.0L137.5 544.0L138.0 544.0L138.5 544.0L139.0 544.0L139.5 544.0L140.0 544.0L140.4 544.0M146.5 544.0L147.0 544.0L147.5 544.0L148.0 544.0L148.5 544.0L149.0 544.0L149.5 544.0L150.0 544.0L150.5 544.0L151.0 544.0L151.5 544.0L152.0 544.0L152.5 544.0L152.9 544.0M159.0 544.0L159.5 544.0L160.0 544.0L160.5 544.0L161.0 544.0L161.5 544.0L162.0 544.0L162.5 544.0L163.0 544.0L163.5 544.0L164.0 544.0L164.5 544.0L165.0 544.0L165.4 544.0M171.5 544.0L172.0 544.0L172.5 544.0L173.0 544.0L173.5 544.0L174.0 544.0L174.5 544.0L175.0 544.0L175.5 544.0L176.0 544.0L176.5 544.0L177.0 544.0L177.5 544.0L177.9 544.0M184.0 544.0L184.5 544.0L185.0 544.0L185.5 544.0L186.0 544.0L186.5 544.0L187.0 544.0L187.5 544.0L188.0 544.0L188.5 544.0L189.0 544.0L189.5 544.0L190.0 544.0L190.4 544.0M196.5 544.0L197.0 544.0L197.5 544.0L198.0 544.0L198.5 544.0L199.0 544.0L199.5 544.0L200.0 544.0L200.5 544.0L201.0 544.0L201.5 544.0L202.0 544.0L202.5 544.0L202.9 544.0M209.0 544.0L209.5 544.0L210.0 544.0L210.5 544.0L211.0 544.0L211.5 544.0L212.0 544.0L212.5 544.0L213.0 544.0L213.5 544.0L214.0 544.0L214.5 544.0L215.0 544.0L215.4 544.0M221.5 544.0L222.0 544.0L222.5 544.0L223.0 544.0L223.5 544.0L224.0 544.0L224.5 544.0L225.0 544.0L225.5 544.0L226.0 544.0L226.5 544.0L227.0 544.0L227.5 544.0L227.9 544.0M234.0 544.0L234.5 544.0L235.0 544.0L235.5 544.0L236.0 544.0L236.5 544.0L237.0 544.0L237.5 544.0L238.0 544.0L238.5 544.0L239.0 544.0L239.5 544.0L240.0 544.0L240.4 544.0M246.5 544.0L247.0 544.0L247.5 544.0L248.0 544.0L248.5 544.0L249.0 544.0L249.5 544.0L250.0 544.0L250.5 544.0L251.0 544.0L251.5 544.0L252.0 544.0L252.5 544.0L252.9 544.0M259.0 544.0L259.5 544.0L260.0 544.0L260.5 544.0L261.0 544.0L261.5 544.0L262.0 544.0L262.5 544.0L263.0 544.0L263.5 544.0L264.0 544.0L264.5 544.0L265.0 544.0L265.4 544.0M271.5 544.0L272.0 544.0L272.5 544.0L273.0 544.0L273.5 544.0L274.0 544.0L274.5 544.0L275.0 544.0L275.5 544.0L276.0 544.0L276.5 544.0L277.0 544.0L277.5 544.0L277.9 544.0M284.0 544.0L284.5 544.0L285.0 544.0L285.5 544.0L286.0 544.0L286.5 544.0L287.0 544.0L287.5 544.0L288.0 544.0L288.5 544.0L289.0 544.0L289.5 544.0L290.0 544.0L290.4 544.0M296.5 544.0L297.0 544.0L297.5 544.0L298.0 544.0L298.5 544.0L299.0 544.0L299.5 544.0L300.0 544.0L300.5 544.0L301.0 544.0L301.5 544.0L302.0 544.0L302.5 544.0L302.9 543.9M309.0 543.5L309.0 543.5L309.5 543.5L310.0 543.4L310.5 543.3L311.0 543.3L311.5 543.1L312.0 543.0L312.5 542.9L313.0 542.7L313.5 542.5L314.0 542.4L314.5 542.1L315.0 541.9L315.1 541.9M319.9 538.1L320.0 538.0L320.5 537.3L321.0 536.5L321.5 535.6L322.0 534.5L322.5 533.3L322.9 532.4M324.4 526.3L324.5 525.8L325.0 523.1L325.5 520.5L325.6 519.9M326.9 513.8L327.0 513.1L327.5 510.6L328.0 508.1L328.1 507.4M329.3 501.3L329.5 500.5L330.0 498.0L330.5 495.5L330.6 494.9M331.9 488.8L332.0 488.2L332.5 485.8L333.0 483.3L333.2 482.4M334.3 476.3L334.5 475.2L335.0 472.4L335.4 469.9M336.4 463.8L336.5 463.4L337.0 460.3L337.5 457.3M338.5 451.2L338.5 450.9L339.0 447.7L339.5 444.7M340.4 438.6L340.5 438.0L341.0 434.5L341.3 432.1M342.1 425.9L342.5 421.9L342.8 419.4M343.5 413.3L344.0 409.4L344.3 406.8M345.1 401.4L345.5 399.3L345.9 397.2M347.2 391.1L347.5 390.0L348.0 387.8L348.5 385.7L348.7 384.8M350.3 378.8L350.5 377.9L351.0 376.0L351.5 374.2L352.0 372.5M353.8 366.5L354.0 366.0L354.5 364.8L355.0 363.6L355.5 362.4L356.0 361.3L356.3 360.6M359.4 355.2L359.5 355.0L360.0 354.4L360.5 353.8L361.0 353.3L361.5 352.8L362.0 352.3L362.5 351.8L363.0 351.5L363.5 351.1L364.0 350.8L364.1 350.8M369.6 350.8L370.0 351.8L370.5 353.4L371.0 355.3L371.5 357.0M372.9 363.1L373.0 363.6L373.5 366.2L374.0 368.9L374.1 369.5M375.0 375.7L375.0 375.8L375.5 379.3L375.9 382.1M376.9 388.3L377.0 389.2L377.5 392.5L377.8 394.7M378.8 400.9L379.0 402.3L379.5 405.7L379.7 407.3M380.6 413.5L381.0 415.9L381.5 419.0L381.7 419.9M382.6 426.1L383.0 428.5L383.5 431.9L383.6 432.5M384.5 438.7L384.5 438.7L385.0 442.0L385.5 445.1L385.5 445.1M386.6 451.3L387.0 453.4L387.5 456.1L387.8 457.7M389.0 463.8L389.5 465.9L390.0 468.2L390.5 470.1M391.7 475.0L392.0 476.0L392.5 477.7L393.0 479.3L393.1 479.8M395.1 485.7L395.5 486.7L396.0 487.9L396.5 489.1L397.0 490.2L397.5 491.1L397.8 491.6M401.4 496.6L401.5 496.7L402.0 497.5L402.5 498.3L403.0 499.1L403.5 499.8L404.0 500.5L404.5 501.1L405.0 501.7L405.1 501.9M409.2 506.5L409.5 506.8L410.0 507.5L410.5 508.3L411.0 509.1L411.5 510.0L412.0 510.8L412.5 511.6L412.7 511.9M416.8 516.6L417.0 516.7L417.5 517.1L418.0 517.4L418.5 517.7L419.0 517.9L419.5 518.1L420.0 518.4L420.5 518.6L421.0 518.8L421.5 519.0L422.0 519.1L422.5 519.3L422.6 519.3M428.6 520.2L429.0 520.2L429.5 520.3L430.0 520.3L430.5 520.3L431.0 520.3L431.5 520.3L432.0 520.3L432.5 520.3L433.0 520.3L433.5 520.3L434.0 520.3L434.5 520.3L435.0 520.3M441.1 520.3L441.5 520.4L442.0 520.4L442.5 520.4L443.0 520.4L443.5 520.4L444.0 520.4L444.5 520.4L445.0 520.4L445.5 520.4L446.0 520.4L446.5 520.4L447.0 520.4L447.5 520.4M453.6 520.4L454.0 520.4L454.5 520.4L455.0 520.4L455.5 520.4L456.0 520.4L456.5 520.4L457.0 520.4L457.5 520.4L458.0 520.4L458.5 520.4L459.0 520.4L459.5 520.4L460.0 520.4M466.1 520.4L466.5 520.4L467.0 520.4L467.5 520.4L468.0 520.4L468.5 520.4L469.0 520.4L469.5 520.4L470.0 520.4L470.5 520.4L471.0 520.4L471.5 520.4L472.0 520.5L472.5 520.5M478.6 520.5L479.0 520.5L479.5 520.5L480.0 520.5L480.5 520.5L481.0 520.5L481.5 520.5L482.0 520.5L482.5 520.5L483.0 520.5L483.5 520.5L484.0 520.5L484.5 520.5L485.0 520.5M491.1 520.5L491.5 520.5L492.0 520.5L492.5 520.5L493.0 520.5L493.5 520.5L494.0 520.5L494.5 520.5L495.0 520.5L495.5 520.5L496.0 520.5L496.5 520.5L497.0 520.5L497.5 520.5M503.6 520.5L504.0 520.5L504.5 520.5L505.0 520.5L505.5 520.5L506.0 520.5L506.5 520.5L507.0 520.5L507.5 520.5L508.0 520.5L508.5 520.5L509.0 520.5L509.5 520.5L510.0 520.5M516.1 520.5L516.5 520.5L517.0 520.5L517.5 520.5L518.0 520.5L518.5 520.5L519.0 520.5L519.5 520.5L520.0 520.5L520.5 520.5L521.0 520.5L521.5 520.5L522.0 520.5L523.5 520.5L524.0 520.5L524.5 520.5L525.0 520.5L525.5 520.5L525.7 520.5M531.8 520.5L532.0 520.5" fill="none" stroke="#ff0000" stroke-width="1.50" stroke-linejoin="round" stroke-linecap="butt" clip-path="url(#c2)"/>
<path d="M84.0 544.0L84.5 544.0L85.0 544.0L85.5 544.0L86.0 544.0L86.5 544.0L87.0 544.0L87.5 544.0L88.0 544.0L88.5 544.0L89.0 544.0L89.5 544.0L90.0 544.0L90.4 544.0M96.5 544.0L97.0 544.0L97.5 544.0L98.0 544.0L98.5 544.0L99.0 544.0L99.5 544.0L100.0 544.0L100.5 544.0L101.0 544.0L101.5 544.0L102.0 544.0L102.5 544.0L102.9 544.0M109.0 544.0L109.5 544.0L110.0 544.0L110.5 544.0L111.0 544.0L111.5 544.0L112.0 544.0L112.5 544.0L113.0 544.0L113.5 544.0L114.0 544.0L114.5 544.0L115.0 544.0L115.4 544.0M121.5 544.0L122.0 544.0L122.5 544.0L123.0 544.0L123.5 544.0L124.0 544.0L124.5 544.0L125.0 544.0L125.5 544.0L126.0 544.0L126.5 544.0L127.0 544.0L127.5 544.0L127.9 544.0M134.0 544.0L134.5 544.0L135.0 544.0L135.5 544.0L136.0 544.0L136.5 544.0L137.0 544.0L137.5 544.0L138.0 544.0L138.5 544.0L139.0 544.0L139.5 544.0L140.0 544.0L140.4 544.0M146.5 544.0L147.0 544.0L147.5 544.0L148.0 544.0L148.5 544.0L149.0 544.0L149.5 544.0L150.0 544.0L150.5 544.0L151.0 544.0L151.5 544.0L152.0 544.0L152.5 544.0L152.9 544.0M159.0 544.0L159.5 544.0L160.0 544.0L160.5 544.0L161.0 544.0L161.5 544.0L162.0 544.0L162.5 544.0L163.0 544.0L163.5 544.0L164.0 544.0L164.5 544.0L165.0 544.0L165.4 544.0M171.5 544.0L172.0 544.0L172.5 544.0L173.0 544.0L173.5 544.0L174.0 544.0L174.5 544.0L175.0 544.0L175.5 544.0L176.0 544.0L176.5 544.0L177.0 544.0L177.5 544.0L177.9 544.0M184.0 544.0L184.5 544.0L185.0 544.0L185.5 544.0L186.0 544.0L186.5 544.0L187.0 544.0L187.5 544.0L188.0 544.0L188.5 544.0L189.0 544.0L189.5 544.0L190.0 544.0L190.4 544.0M196.5 544.0L197.0 544.0L197.5 544.0L198.0 544.0L198.5 544.0L199.0 544.0L199.5 544.0L200.0 544.0L200.5 544.0L201.0 544.0L201.5 544.0L202.0 544.0L202.5 544.0L202.9 544.0M209.0 544.0L209.5 544.0L210.0 544.0L210.5 544.0L211.0 544.0L211.5 544.0L212.0 544.0L212.5 544.0L213.0 544.0L213.5 544.0L214.0 544.0L214.5 544.0L215.0 544.0L215.4 544.0M221.5 544.0L222.0 544.0L222.5 544.0L223.0 544.0L223.5 544.0L224.0 544.0L224.5 544.0L225.0 544.0L225.5 544.0L226.0 544.0L226.5 544.0L227.0 544.0L227.5 544.0L227.9 544.0M234.0 544.0L234.5 544.0L235.0 544.0L235.5 544.0L236.0 544.0L236.5 544.0L237.0 544.0L237.5 544.0L238.0 544.0L238.5 544.0L239.0 544.0L239.5 544.0L240.0 544.0L240.4 544.0M246.5 544.0L247.0 544.0L247.5 544.0L248.0 544.0L248.5 544.0L249.0 544.0L249.5 544.0L250.0 544.0L250.5 544.0L251.0 544.0L251.5 544.0L252.0 544.0L252.5 544.0L252.9 544.0M259.0 544.0L259.5 544.0L260.0 544.0L260.5 544.0L261.0 544.0L261.5 544.0L262.0 544.0L262.5 544.0L263.0 544.0L263.5 544.0L264.0 544.0L264.5 544.0L265.0 544.0L265.4 544.0M271.5 544.0L272.0 544.0L272.5 544.0L273.0 544.0L273.5 544.0L274.0 544.0L274.5 544.0L275.0 544.0L275.5 544.0L276.0 544.0L276.5 544.0L277.0 544.0L277.5 544.0L277.9 544.0M284.0 544.0L284.5 544.0L285.0 544.0L285.5 544.0L286.0 544.0L286.5 544.0L287.0 544.0L287.5 544.0L288.0 544.0L288.5 544.0L289.0 544.0L289.5 544.0L290.0 544.0L290.4 544.0M296.5 544.0L297.0 544.0L297.5 544.0L298.0 544.0L298.5 544.0L299.0 544.0L299.5 544.0L300.0 544.0L300.5 544.0L301.0 544.0L301.5 544.0L302.0 544.0L302.5 544.0L302.9 544.0M309.0 543.6L309.0 543.6L309.5 543.5L310.0 543.5L310.5 543.4L311.0 543.4L311.5 543.3L312.0 543.3L312.5 543.1L313.0 543.0L313.5 542.9L314.0 542.7L314.5 542.5L315.0 542.3L315.2 542.2M320.4 539.1L320.5 539.1L321.0 538.6L321.5 538.0L322.0 537.3L322.5 536.5L323.0 535.6L323.5 534.5L323.9 533.7M325.6 527.7L326.0 525.8L326.5 523.1L326.8 521.3M328.1 515.2L328.5 513.1L329.0 510.6L329.4 508.8M330.6 502.7L331.0 500.5L331.5 498.0L331.8 496.3M333.1 490.2L333.5 488.2L334.0 485.8L334.4 483.8M335.6 477.7L336.0 475.2L336.5 472.2L336.6 471.3M337.6 465.1L338.0 462.8L338.5 459.8L338.7 458.7M339.8 452.6L340.0 451.4L340.5 448.8L341.0 446.4L341.0 446.2M342.3 440.1L342.5 439.3L343.0 436.9L343.5 434.5L343.7 433.7M344.8 427.6L345.0 426.7L345.5 424.0L346.0 421.5L346.1 421.2M347.3 415.1L347.5 414.4L348.0 412.5L348.5 411.0L349.0 409.7L349.5 408.5L350.0 407.4L350.5 406.2L350.7 405.7M353.1 400.0L353.5 399.3L354.0 398.3L354.5 397.5L355.0 396.8L355.5 396.1L356.0 395.5L356.5 394.9L356.7 394.7M361.5 390.8L361.5 390.8L362.0 390.5L362.5 390.2L363.0 390.0L363.5 389.8L364.0 389.6L364.5 389.4L365.0 389.2L365.5 389.1L366.0 389.0L366.5 389.0L367.0 389.2L367.4 389.5M370.2 394.8L370.5 395.7L371.0 397.2L371.5 398.9L372.0 400.7L372.1 401.1M373.7 407.1L374.0 408.4L374.5 410.4L375.0 412.4L375.2 413.4M376.5 419.5L377.0 422.0L377.5 425.0L377.6 425.9M378.5 432.1L379.0 435.4L379.5 438.6M380.4 444.7L380.5 445.0L381.0 448.0L381.5 450.9L381.5 451.1M382.7 457.3L383.0 459.1L383.5 461.6L383.9 463.7M385.3 469.7L385.5 470.7L385.8 471.8M386.2 473.8L386.5 474.9L387.0 476.9L387.5 478.9L387.8 480.2M389.5 486.2L389.5 486.3L390.0 488.0L390.5 489.7L391.0 491.5L391.3 492.4M393.1 498.4L393.5 499.7L394.0 501.2L394.5 502.6L395.0 503.9L395.3 504.5M398.5 509.8L399.0 510.4L399.5 510.9L400.0 511.5L400.5 512.1L401.0 512.7L401.5 513.3L402.0 514.0L402.5 514.7L402.6 514.8M406.2 519.8L406.5 520.2L407.0 520.9L407.5 521.5L408.0 522.1L408.5 522.7L409.0 523.3L409.5 523.8L410.0 524.4L410.3 524.8M414.5 529.4L414.5 529.4L415.0 529.7L415.5 530.0L416.0 530.3L416.5 530.6L417.0 530.8L417.5 531.0L418.0 531.2L418.5 531.4L419.0 531.6L419.5 531.7L420.0 531.8L420.3 531.8M426.4 532.6L426.5 532.6L427.0 532.7L427.5 532.7L428.0 532.8L428.5 532.8L429.0 532.8L429.5 532.9L430.0 532.9L430.5 533.0L431.0 533.0L431.5 533.0L432.0 533.1L432.5 533.1L432.8 533.1M438.8 533.4L439.0 533.4L439.5 533.4L440.0 533.4L440.5 533.4L441.0 533.4L441.5 533.4L442.0 533.4L442.5 533.4L443.0 533.4L443.5 533.4L444.0 533.5L444.5 533.5L445.0 533.5L445.2 533.5M451.3 533.6L451.5 533.6L452.0 533.6L452.5 533.6L453.0 533.6L453.5 533.6L454.0 533.6L454.5 533.6L455.0 533.6L455.5 533.6L456.0 533.6L456.5 533.6L457.0 533.6L457.5 533.6L457.7 533.6M463.8 533.7L464.0 533.7L464.5 533.7L465.0 533.7L465.5 533.7L466.0 533.7L466.5 533.7L467.0 533.7L467.5 533.7L468.0 533.7L468.5 533.7L469.0 533.7L469.5 533.7L470.0 533.7L470.2 533.8M476.3 533.8L476.5 533.8L477.0 533.8L477.5 533.8L478.0 533.8L478.5 533.8L479.0 533.8L479.5 533.8L480.0 533.8L480.5 533.8L481.0 533.8L481.5 533.7L482.0 533.6L482.5 533.5L482.7 533.4M486.3 532.6L486.5 532.6L487.0 532.6L487.5 532.6L488.0 532.6L488.5 532.6L489.0 532.6L489.5 532.6L490.0 532.6L490.5 532.6L491.0 532.6L491.5 532.6L492.0 532.6L492.5 532.6L492.7 532.6M498.8 532.6L499.0 532.6L499.5 532.6L500.0 532.6L500.5 532.6L501.0 532.6L501.5 532.6L502.0 532.6L502.5 532.6L503.0 532.6L503.5 532.7L504.0 532.7L504.5 532.7L504.6 532.7M505.9 532.7L506.0 532.7L506.5 532.7L507.0 532.7L507.5 532.7L508.0 532.7L508.5 532.7L509.0 532.7L509.5 532.7L510.0 532.7L510.5 532.7L511.0 532.7L511.5 532.7L512.0 532.7L512.3 532.7M518.4 532.7L518.5 532.7L519.0 532.7L519.5 532.7L520.0 532.7L520.5 532.7L521.0 532.7L521.5 532.7L522.0 532.7L522.5 532.7L523.0 532.7L523.5 532.7L524.0 532.7L524.5 532.7L524.8 532.7M530.9 532.7L531.0 532.7L531.5 532.7L532.0 532.7" fill="none" stroke="#00ff00" stroke-width="1.50" stroke-linejoin="round" stroke-linecap="butt" clip-path="url(#c2)"/>
<path d="M84.0 544.0L84.5 544.0L85.0 544.0L85.5 544.0L86.0 544.0L86.5 544.0L87.0 544.0L87.5 544.0L88.0 544.0L88.5 544.0L89.0 544.0L89.5 544.0L90.0 544.0L90.4 544.0M96.5 544.0L97.0 544.0L97.5 544.0L98.0 544.0L98.5 544.0L99.0 544.0L99.5 544.0L100.0 544.0L100.5 544.0L101.0 544.0L101.5 544.0L102.0 544.0L102.5 544.0L102.9 544.0M109.0 544.0L109.5 544.0L110.0 544.0L110.5 544.0L111.0 544.0L111.5 544.0L112.0 544.0L112.5 544.0L113.0 544.0L113.5 544.0L114.0 544.0L114.5 544.0L115.0 544.0L115.4 544.0M121.5 544.0L122.0 544.0L122.5 544.0L123.0 544.0L123.5 544.0L124.0 544.0L124.5 544.0L125.0 544.0L125.5 544.0L126.0 544.0L126.5 544.0L127.0 544.0L127.5 544.0L127.9 544.0M134.0 544.0L134.5 544.0L135.0 544.0L135.5 544.0L136.0 544.0L136.5 544.0L137.0 544.0L137.5 544.0L138.0 544.0L138.5 544.0L139.0 544.0L139.5 544.0L140.0 544.0L140.4 544.0M146.5 544.0L147.0 544.0L147.5 544.0L148.0 544.0L148.5 544.0L149.0 544.0L149.5 544.0L150.0 544.0L150.5 544.0L151.0 544.0L151.5 544.0L152.0 544.0L152.5 544.0L152.9 544.0M159.0 544.0L159.5 544.0L160.0 544.0L160.5 544.0L161.0 544.0L161.5 544.0L162.0 544.0L162.5 544.0L163.0 544.0L163.5 544.0L164.0 544.0L164.5 544.0L165.0 544.0L165.4 544.0M171.5 544.0L172.0 544.0L172.5 544.0L173.0 544.0L173.5 544.0L174.0 544.0L174.5 544.0L175.0 544.0L175.5 544.0L176.0 544.0L176.5 544.0L177.0 544.0L177.5 544.0L177.9 544.0M184.0 544.0L184.5 544.0L185.0 544.0L185.5 544.0L186.0 544.0L186.5 544.0L187.0 544.0L187.5 544.0L188.0 544.0L188.5 544.0L189.0 544.0L189.5 544.0L190.0 544.0L190.4 544.0M196.5 544.0L197.0 544.0L197.5 544.0L198.0 544.0L198.5 544.0L199.0 544.0L199.5 544.0L200.0 544.0L200.5 544.0L201.0 544.0L201.5 544.0L202.0 544.0L202.5 544.0L202.9 544.0M209.0 544.0L209.5 544.0L210.0 544.0L210.5 544.0L211.0 544.0L211.5 544.0L212.0 544.0L212.5 544.0L213.0 544.0L213.5 544.0L214.0 544.0L214.5 544.0L215.0 544.0L215.4 544.0M221.5 544.0L222.0 544.0L222.5 544.0L223.0 544.0L223.5 544.0L224.0 544.0L224.5 544.0L225.0 544.0L225.5 544.0L226.0 544.0L226.5 544.0L227.0 544.0L227.5 544.0L227.9 544.0M234.0 544.0L234.5 544.0L235.0 544.0L235.5 544.0L236.0 544.0L236.5 544.0L237.0 544.0L237.5 544.0L238.0 544.0L238.5 544.0L239.0 544.0L239.5 544.0L240.0 544.0L240.4 544.0M246.5 544.0L247.0 544.0L247.5 544.0L248.0 544.0L248.5 544.0L249.0 544.0L249.5 544.0L250.0 544.0L250.5 544.0L251.0 544.0L251.5 544.0L252.0 544.0L252.5 544.0L252.9 544.0M259.0 544.0L259.5 544.0L260.0 544.0L260.5 544.0L261.0 544.0L261.5 544.0L262.0 544.0L262.5 544.0L263.0 544.0L263.5 544.0L264.0 544.0L264.5 544.0L265.0 544.0L265.4 544.0M271.5 544.0L272.0 544.0L272.5 544.0L273.0 544.0L273.5 544.0L274.0 544.0L274.5 544.0L275.0 544.0L275.5 544.0L276.0 544.0L276.5 544.0L277.0 544.0L277.5 544.0L277.9 544.0M284.0 544.0L284.5 544.0L285.0 544.0L285.5 544.0L286.0 544.0L286.5 544.0L287.0 544.0L287.5 544.0L288.0 544.0L288.5 544.0L289.0 544.0L289.5 544.0L290.0 544.0L290.4 544.0M296.5 544.0L297.0 544.0L297.5 544.0L298.0 544.0L298.5 544.0L299.0 544.0L299.5 544.0L300.0 544.0L300.5 544.0L301.0 544.0L301.5 544.0L302.0 544.0L302.5 544.0L302.9 544.0M309.0 543.6L309.0 543.6L309.5 543.5L310.0 543.5L310.5 543.4L311.0 543.4L311.5 543.3L312.0 543.3L312.5 543.1L313.0 543.0L313.5 542.9L314.0 542.7L314.5 542.5L315.0 542.3L315.2 542.2M320.4 539.1L320.5 539.1L321.0 538.6L321.5 538.0L322.0 537.3L322.5 536.5L323.0 535.6L323.5 534.5L323.9 533.7M325.6 527.7L326.0 525.8L326.5 523.1L326.8 521.3M328.1 515.2L328.5 513.1L329.0 510.6L329.4 508.8M330.6 502.7L331.0 500.5L331.5 498.0L331.8 496.3M333.1 490.2L333.5 488.2L334.0 485.8L334.4 483.8M335.6 477.7L336.0 475.2L336.5 472.2L336.6 471.3M337.6 465.1L338.0 462.8L338.5 459.8L338.7 458.7M339.8 452.6L340.0 451.4L340.5 448.8L341.0 446.4L341.0 446.2M342.3 440.1L342.5 439.3L343.0 436.9L343.5 434.5L343.7 433.7M344.8 427.6L345.0 426.7L345.5 424.0L346.0 421.5L346.1 421.2M347.3 415.1L347.5 414.4L348.0 412.5L348.5 411.0L349.0 409.7L349.5 408.5L350.0 407.4L350.5 406.2L350.7 405.7M353.1 400.0L353.5 399.3L354.0 398.3L354.5 397.5L355.0 396.8L355.5 396.1L356.0 395.5L356.5 394.9L356.7 394.7M361.5 390.8L361.5 390.8L362.0 390.5L362.5 390.2L363.0 390.0L363.5 389.8L364.0 389.6L364.5 389.4L365.0 389.2L365.5 389.1L366.0 389.0L366.5 389.0L367.0 389.2L367.4 389.5M370.2 394.8L370.5 395.7L371.0 397.2L371.5 398.9L372.0 400.7L372.1 401.1M373.7 407.1L374.0 408.4L374.5 410.4L375.0 412.4L375.2 413.4M376.5 419.5L377.0 422.0L377.5 425.0L377.6 425.9M378.5 432.1L379.0 435.4L379.5 438.6M380.4 444.7L380.5 445.0L381.0 448.0L381.5 450.9L381.5 451.1M382.7 457.3L383.0 459.1L383.5 461.6L383.9 463.7M385.3 469.7L385.5 470.7L385.8 471.8M386.2 473.8L386.5 474.9L387.0 476.9L387.5 478.9L387.8 480.2M389.5 486.2L389.5 486.3L390.0 488.0L390.5 489.7L391.0 491.5L391.3 492.4M393.1 498.4L393.5 499.7L394.0 501.2L394.5 502.6L395.0 503.9L395.3 504.5M398.5 509.8L399.0 510.4L399.5 510.9L400.0 511.5L400.5 512.1L401.0 512.7L401.5 513.3L402.0 514.0L402.5 514.7L402.6 514.8M406.2 519.8L406.5 520.2L407.0 520.9L407.5 521.5L408.0 522.1L408.5 522.7L409.0 523.3L409.5 523.8L410.0 524.4L410.3 524.8M414.5 529.4L414.5 529.4L415.0 529.7L415.5 530.0L416.0 530.3L416.5 530.6L417.0 530.8L417.5 531.0L418.0 531.2L418.5 531.4L419.0 531.6L419.5 531.7L420.0 531.8L420.3 531.8M426.4 532.6L426.5 532.6L427.0 532.7L427.5 532.7L428.0 532.8L428.5 532.8L429.0 532.8L429.5 532.9L430.0 532.9L430.5 533.0L431.0 533.0L431.5 533.0L432.0 533.1L432.5 533.1L432.8 533.1M438.8 533.4L439.0 533.4L439.5 533.4L440.0 533.4L440.5 533.4L441.0 533.4L441.5 533.4L442.0 533.4L442.5 533.4L443.0 533.4L443.5 533.4L444.0 533.5L444.5 533.5L445.0 533.5L445.2 533.5M451.3 533.6L451.5 533.6L452.0 533.6L452.5 533.6L453.0 533.6L453.5 533.6L454.0 533.6L454.5 533.6L455.0 533.6L455.5 533.6L456.0 533.6L456.5 533.6L457.0 533.6L457.5 533.6L457.7 533.6M463.8 533.7L464.0 533.7L464.5 533.7L465.0 533.7L465.5 533.7L466.0 533.7L466.5 533.7L467.0 533.7L467.5 533.7L468.0 533.7L468.5 533.7L469.0 533.7L469.5 533.7L470.0 533.7L470.2 533.8M476.3 533.8L476.5 533.8L477.0 533.8L477.5 533.8L478.0 533.8L478.5 533.8L479.0 533.8L479.5 533.8L480.0 533.8L480.5 533.8L481.0 533.8L481.5 533.8L482.0 533.8L482.5 533.8L482.7 533.8M486.3 533.9L486.5 533.9L487.0 533.9L487.5 533.9L488.0 533.9L488.5 533.9L489.0 533.9L489.5 533.9L490.0 533.9L490.5 533.9L491.0 533.9L491.5 533.9L492.0 533.9L492.5 533.9L492.7 533.9M498.8 533.9L499.0 533.9L499.5 533.9L500.0 533.9L500.5 533.9L501.0 533.9L501.5 533.9L502.0 533.9L502.5 533.9L503.0 533.9L503.5 534.0L504.0 534.0L504.5 534.0L504.6 534.0M505.9 534.0L506.0 534.0L506.5 534.0L507.0 534.0L507.5 534.0L508.0 534.0L508.5 534.0L509.0 534.0L509.5 534.0L510.0 534.0L510.5 534.0L511.0 534.0L511.5 534.0L512.0 534.0L512.3 534.0M518.4 534.0L518.5 534.0L519.0 534.0L519.5 534.0L520.0 534.0L520.5 534.0L521.0 534.0L521.5 534.0L522.0 534.0L522.5 534.0L523.0 534.0L523.5 534.0L524.0 534.0L524.5 534.0L524.8 534.0M530.9 534.0L531.0 534.0L531.5 534.0L532.0 534.0" fill="none" stroke="#2600ff" stroke-width="1.50" stroke-linejoin="round" stroke-linecap="butt" clip-path="url(#c2)"/>
<path d="M55.42 32.39L53.76 34.06L52.65 34.61M55.42 32.39L55.42 44.05M69.30 34.61L69.85 37.39L69.85 39.05L69.30 41.83L68.19 43.49L66.52 44.05L65.41 44.05L63.75 43.49L62.64 41.83L62.08 39.05L62.08 37.39L62.64 34.61L63.75 32.95L65.41 32.39L66.52 32.39L68.19 32.95ZM72.89 30.00L72.89 29.65L73.24 28.96L73.58 28.62L74.27 28.28L75.65 28.28L76.34 28.62L76.68 28.96L77.02 29.65L77.02 30.34L75.99 32.06L72.55 35.50M77.37 35.50L72.55 35.50M55.42 63.77L53.76 65.43L52.65 65.99M55.42 63.77L55.42 75.42M69.30 65.99L69.85 68.76L69.85 70.43L69.30 73.20L68.19 74.87L66.52 75.42L65.41 75.42L63.75 74.87L62.64 73.20L62.08 70.43L62.08 68.76L62.64 65.99L63.75 64.32L65.41 63.77L66.52 63.77L68.19 64.32ZM75.30 59.65L74.27 60.68L73.58 61.02M75.30 59.65L75.30 66.87M55.42 100.34L53.76 102.00L52.65 102.56M55.42 100.34L55.42 111.99M69.30 102.56L69.85 105.33L69.85 107.00L69.30 109.77L68.19 111.44L66.52 111.99L65.41 111.99L63.75 111.44L62.64 109.77L62.08 107.00L62.08 105.33L62.64 102.56L63.75 100.89L65.41 100.34L66.52 100.34L68.19 100.89ZM77.02 97.59L77.37 99.31L77.37 100.35L77.02 102.07L76.34 103.10L75.30 103.44L74.61 103.44L73.58 103.10L72.89 102.07L72.55 100.35L72.55 99.31L72.89 97.59L73.58 96.56L74.61 96.22L75.30 96.22L76.34 96.56ZM46.48 136.91L44.81 138.57L43.70 139.13M46.48 136.91L46.48 148.56M60.35 139.13L60.91 141.90L60.91 143.57L60.35 146.34L59.24 148.01L57.58 148.56L56.47 148.56L54.80 148.01L53.69 146.34L53.14 143.57L53.14 141.90L53.69 139.13L54.80 137.46L56.47 136.91L57.58 136.91L59.24 137.46ZM63.95 136.92L70.14 136.92M75.30 132.79L74.27 133.82L73.58 134.17M75.30 132.79L75.30 140.01M46.48 173.48L44.81 175.15L43.70 175.70M46.48 173.48L46.48 185.14M60.35 175.70L60.91 178.48L60.91 180.14L60.35 182.92L59.24 184.58L57.58 185.14L56.47 185.14L54.80 184.58L53.69 182.92L53.14 180.14L53.14 178.48L53.69 175.70L54.80 174.04L56.47 173.48L57.58 173.48L59.24 174.04ZM63.95 173.49L70.14 173.49M72.89 171.08L72.89 170.74L73.24 170.05L73.58 169.71L74.27 169.36L75.65 169.36L76.34 169.71L76.68 170.05L77.02 170.74L77.02 171.43L75.99 173.15L72.55 176.59M77.37 176.59L72.55 176.59M46.48 210.05L44.81 211.72L43.70 212.27M46.48 210.05L46.48 221.71M60.35 212.27L60.91 215.05L60.91 216.71L60.35 219.49L59.24 221.15L57.58 221.71L56.47 221.71L54.80 221.15L53.69 219.49L53.14 216.71L53.14 215.05L53.69 212.27L54.80 210.61L56.47 210.05L57.58 210.05L59.24 210.61ZM63.95 210.06L70.14 210.06M72.55 211.78L72.89 212.47L73.24 212.81L74.27 213.16L75.30 213.16L76.34 212.81L77.02 212.13L77.37 211.09L77.37 210.41L77.02 209.37L76.68 209.03L75.99 208.69L74.96 208.69M77.02 205.93L73.24 205.93M77.02 205.93L74.96 208.69M46.48 246.62L44.81 248.29L43.70 248.84M46.48 246.62L46.48 258.28M60.35 248.84L60.91 251.62L60.91 253.28L60.35 256.06L59.24 257.72L57.58 258.28L56.47 258.28L54.80 257.72L53.69 256.06L53.14 253.28L53.14 251.62L53.69 248.84L54.80 247.18L56.47 246.62L57.58 246.62L59.24 247.18ZM63.95 246.63L70.14 246.63M75.99 242.50L75.99 247.32M75.99 249.73L75.99 247.32M77.71 247.32L75.99 247.32M72.55 247.32L75.99 247.32M72.55 247.32L75.99 242.50M46.48 276.35L44.81 278.01L43.70 278.56M46.48 276.35L46.48 288.00M60.35 278.56L60.91 281.34L60.91 283.00L60.35 285.78L59.24 287.44L57.58 288.00L56.47 288.00L54.80 287.44L53.69 285.78L53.14 283.00L53.14 281.34L53.69 278.56L54.80 276.90L56.47 276.35L57.58 276.35L59.24 276.90ZM63.95 276.35L70.14 276.35M72.55 278.07L72.89 278.76L73.24 279.11L74.27 279.45L75.30 279.45L76.34 279.11L77.02 278.42L77.37 277.39L77.37 276.70L77.02 275.67L76.34 274.98L75.30 274.63L74.27 274.63L73.24 274.98L72.89 275.32M76.68 272.23L73.24 272.23L72.89 275.32M59.53 534.67L60.09 537.44L60.09 539.11L59.53 541.88L58.42 543.55L56.76 544.10L55.65 544.10L53.98 543.55L52.87 541.88L52.32 539.11L52.32 537.44L52.87 534.67L53.98 533.00L55.65 532.45L56.76 532.45L58.42 533.00ZM65.08 543.55L64.53 544.10L63.97 543.55L64.53 542.99ZM76.18 534.67L76.74 537.44L76.74 539.11L76.18 541.88L75.07 543.55L73.41 544.10L72.30 544.10L70.63 543.55L69.52 541.88L68.97 539.11L68.97 537.44L69.52 534.67L70.63 533.00L72.30 532.45L73.41 532.45L75.07 533.00ZM59.53 484.48L60.09 487.25L60.09 488.92L59.53 491.69L58.42 493.36L56.76 493.91L55.65 493.91L53.98 493.36L52.87 491.69L52.32 488.92L52.32 487.25L52.87 484.48L53.98 482.81L55.65 482.26L56.76 482.26L58.42 482.81ZM65.08 493.36L64.53 493.91L63.97 493.36L64.53 492.80ZM69.52 485.03L69.52 484.48L70.08 483.37L70.63 482.81L71.74 482.26L73.96 482.26L75.07 482.81L75.62 483.37L76.18 484.48L76.18 485.59L74.52 488.36L68.97 493.91M76.74 493.91L68.97 493.91M59.53 427.59L60.09 430.36L60.09 432.03L59.53 434.80L58.42 436.47L56.76 437.02L55.65 437.02L53.98 436.47L52.87 434.80L52.32 432.03L52.32 430.36L52.87 427.59L53.98 425.92L55.65 425.37L56.76 425.37L58.42 425.92ZM65.08 436.47L64.53 437.02L63.97 436.47L64.53 435.91ZM74.52 425.37L74.52 433.14M74.52 437.02L74.52 433.14M77.29 433.14L74.52 433.14M68.97 433.14L74.52 433.14M68.97 433.14L74.52 425.37M59.53 370.70L60.09 373.47L60.09 375.14L59.53 377.91L58.42 379.58L56.76 380.13L55.65 380.13L53.98 379.58L52.87 377.91L52.32 375.14L52.32 373.47L52.87 370.70L53.98 369.03L55.65 368.48L56.76 368.48L58.42 369.03ZM65.08 379.58L64.53 380.13L63.97 379.58L64.53 379.02ZM69.52 375.97L69.52 373.47L70.08 370.98L71.19 369.03L72.85 368.48L73.96 368.48L75.62 369.03L76.18 370.14M69.52 375.97L70.08 374.58L71.19 373.47L72.85 372.92L73.41 372.92L75.07 373.47L76.18 374.58L76.74 376.25L76.74 376.80L76.18 378.47L75.07 379.58L73.41 380.13L72.85 380.13L71.19 379.58L70.08 378.47L69.52 376.25M59.53 313.81L60.09 316.58L60.09 318.25L59.53 321.02L58.42 322.69L56.76 323.24L55.65 323.24L53.98 322.69L52.87 321.02L52.32 318.25L52.32 316.58L52.87 313.81L53.98 312.14L55.65 311.59L56.76 311.59L58.42 312.14ZM65.08 322.69L64.53 323.24L63.97 322.69L64.53 322.13ZM72.85 316.58L70.63 317.14L69.52 318.25L68.97 319.36L68.97 321.02L69.52 322.13L70.08 322.69L71.74 323.24L73.96 323.24L75.62 322.69L76.18 322.13L76.74 321.02L76.74 319.36L76.18 318.25L75.07 317.14ZM72.85 316.58L71.19 316.03L70.08 315.47L69.52 314.36L69.52 313.25L70.08 312.14L71.74 311.59L73.96 311.59L75.62 312.14L76.18 313.25L76.18 314.36L75.62 315.47L74.52 316.03ZM75.36 557.75L73.70 559.41L72.59 559.97M75.36 557.75L75.36 569.40M89.24 559.97L89.79 562.74L89.79 564.40L89.24 567.18L88.13 568.85L86.46 569.40L85.35 569.40L83.69 568.85L82.58 567.18L82.02 564.40L82.02 562.74L82.58 559.97L83.69 558.30L85.35 557.75L86.46 557.75L88.13 558.30ZM92.49 559.47L92.84 560.16L93.18 560.51L94.21 560.85L95.24 560.85L96.28 560.51L96.96 559.82L97.31 558.79L97.31 558.10L96.96 557.07L96.28 556.38L95.24 556.03L94.21 556.03L93.18 556.38L92.84 556.72M96.62 553.63L93.18 553.63L92.84 556.72M196.48 557.75L194.81 559.41L193.70 559.97M196.48 557.75L196.48 569.40M210.35 559.97L210.91 562.74L210.91 564.40L210.35 567.18L209.24 568.85L207.58 569.40L206.47 569.40L204.80 568.85L203.69 567.18L203.14 564.40L203.14 562.74L203.69 559.97L204.80 558.30L206.47 557.75L207.58 557.75L209.24 558.30ZM213.95 558.27L213.95 556.72L214.29 555.17L214.98 553.97L216.01 553.63L216.70 553.63L217.74 553.97L218.08 554.66M213.95 558.27L214.29 557.41L214.98 556.72L216.01 556.38L216.36 556.38L217.39 556.72L218.08 557.41L218.42 558.44L218.42 558.79L218.08 559.82L217.39 560.51L216.36 560.85L216.01 560.85L214.98 560.51L214.29 559.82L213.95 558.44M317.59 557.75L315.93 559.41L314.82 559.97M317.59 557.75L317.59 569.40M331.47 559.97L332.02 562.74L332.02 564.40L331.47 567.18L330.36 568.85L328.69 569.40L327.58 569.40L325.92 568.85L324.81 567.18L324.25 564.40L324.25 562.74L324.81 559.97L325.92 558.30L327.58 557.75L328.69 557.75L330.36 558.30ZM336.10 560.85L339.54 553.63L334.72 553.63M438.71 557.75L437.04 559.41L435.93 559.97M438.71 557.75L438.71 569.40M452.58 559.97L453.14 562.74L453.14 564.40L452.58 567.18L451.47 568.85L449.81 569.40L448.70 569.40L447.03 568.85L445.92 567.18L445.37 564.40L445.37 562.74L445.92 559.97L447.03 558.30L448.70 557.75L449.81 557.75L451.47 558.30ZM458.24 556.72L456.87 557.07L456.18 557.75L455.84 558.44L455.84 559.47L456.18 560.16L456.52 560.51L457.56 560.85L458.93 560.85L459.96 560.51L460.31 560.16L460.65 559.47L460.65 558.44L460.31 557.75L459.62 557.07ZM458.24 556.72L457.21 556.38L456.52 556.03L456.18 555.35L456.18 554.66L456.52 553.97L457.56 553.63L458.93 553.63L459.96 553.97L460.31 554.66L460.31 555.35L459.96 556.03L459.28 556.38ZM246.28 589.13L247.39 590.25L248.50 590.80L250.16 590.80L251.27 590.25L252.38 589.13L252.94 587.47L252.94 586.36L252.38 584.69L251.27 583.58L250.16 583.03L248.50 583.03L247.39 583.58L246.28 584.69M246.28 589.13L246.28 594.68M246.28 589.13L246.28 584.69M246.28 583.03L246.28 584.69M261.26 583.03L259.60 583.03L258.49 583.58L257.38 584.69L256.82 586.08M256.82 583.03L256.82 586.08M256.82 590.80L256.82 586.36M264.04 584.97L264.04 584.69L265.15 583.58L266.26 583.03L267.92 583.03L269.03 583.58L270.14 584.69L270.70 586.36L270.70 587.47L270.14 589.13L269.03 590.25L267.92 590.80L266.26 590.80L265.15 590.25L264.04 589.13L263.48 587.47L263.48 586.36ZM280.69 589.13L279.58 590.25L278.47 590.80L276.80 590.80L275.69 590.25L274.58 589.13L274.03 587.47L274.03 586.36L274.58 584.69L275.69 583.58L276.80 583.03L278.47 583.03L279.58 583.58L280.69 584.69M280.69 589.13L280.69 591.91L280.13 593.57L279.58 594.13L278.47 594.68L276.80 594.68L275.69 594.13M280.69 589.13L280.69 584.69M280.69 584.69L280.69 583.03M289.57 583.03L287.90 583.03L286.79 583.58L285.68 584.69L285.13 586.08M285.13 583.03L285.13 586.08M285.13 590.80L285.13 586.36M298.45 589.13L297.34 590.25L296.23 590.80L294.56 590.80L293.45 590.25L292.34 589.13L291.79 587.47L291.79 586.36M291.79 586.36L298.45 586.36L298.45 585.25L297.89 584.14L297.34 583.58L296.23 583.03L294.56 583.03L293.45 583.58L292.34 584.69ZM307.88 584.69L307.33 583.58L305.66 583.03L304.00 583.03L302.33 583.58L301.78 584.69L302.33 585.80L303.44 586.36L306.22 586.91L307.33 587.47L307.88 588.58L307.88 589.13L307.33 590.25L305.66 590.80L304.00 590.80L302.33 590.25L301.78 589.13M317.32 584.69L316.76 583.58L315.10 583.03L313.43 583.03L311.77 583.58L311.21 584.69L311.77 585.80L312.88 586.36L315.65 586.91L316.76 587.47L317.32 588.58L317.32 589.13L316.76 590.25L315.10 590.80L313.43 590.80L311.77 590.25L311.21 589.13M333.97 576.92L332.86 578.03L331.75 579.70L330.64 581.92L330.08 584.69L330.08 586.91L330.64 589.69L331.75 591.91L332.86 593.57L333.97 594.68M343.96 589.13L342.85 590.25L341.74 590.80L340.07 590.80L338.96 590.25L337.85 589.13L337.30 587.47L337.30 586.36L337.85 584.69L338.96 583.58L340.07 583.03L341.74 583.03L342.85 583.58L343.96 584.69M347.84 583.03L347.84 585.25M353.95 590.80L353.95 585.25M360.05 590.80L360.05 585.25L359.50 583.58L358.39 583.03L356.72 583.03L355.61 583.58L353.95 585.25M347.84 590.80L347.84 585.25M353.95 585.25L353.39 583.58L352.28 583.03L350.62 583.03L349.51 583.58L347.84 585.25M363.94 594.68L365.05 593.57L366.16 591.91L367.27 589.69L367.82 586.91L367.82 584.69L367.27 581.92L366.16 579.70L365.05 578.03L363.94 576.92" fill="none" stroke="#000" stroke-width="1.50" stroke-linecap="butt" stroke-linejoin="round"/>
<path transform="translate(25.60 160.30) rotate(-90)" d="M-120.44 0.00L-120.44 -5.55M-120.44 -7.77L-120.44 -5.55M-114.33 0.00L-114.33 -5.55L-114.89 -7.22L-116.00 -7.77L-117.66 -7.77L-118.77 -7.22L-120.44 -5.55M-103.79 -1.67L-104.90 -0.56L-106.01 0.00L-107.67 0.00L-108.78 -0.56L-109.89 -1.67L-110.45 -3.33L-110.45 -4.44M-110.45 -4.44L-103.79 -4.44L-103.79 -5.55L-104.34 -6.66L-104.90 -7.22L-106.01 -7.77L-107.67 -7.77L-108.78 -7.22L-109.89 -6.11ZM-93.80 -2.22L-95.46 -0.56L-96.57 0.00L-98.24 0.00L-99.35 -0.56L-99.90 -2.22L-99.90 -7.77M-93.80 -2.22L-93.80 0.00M-93.80 -2.22L-93.80 -7.77M-86.58 -7.77L-88.80 -7.77M-86.03 0.00L-87.14 0.00L-88.25 -0.56L-88.80 -2.22L-88.80 -7.77M-90.47 -7.77L-88.80 -7.77M-88.80 -7.77L-88.80 -11.66M-78.26 -7.77L-79.92 -7.77L-81.03 -7.22L-82.14 -6.11L-82.70 -4.72M-82.70 -7.77L-82.70 -4.72M-82.70 0.00L-82.70 -4.44M-75.48 0.00L-75.48 -7.77M-75.76 -11.93L-75.48 -12.21L-74.93 -11.66L-75.48 -11.10L-76.04 -11.66ZM-71.04 0.00L-71.04 -5.55M-71.04 -7.77L-71.04 -5.55M-64.94 0.00L-64.94 -5.55L-65.49 -7.22L-66.60 -7.77L-68.27 -7.77L-69.38 -7.22L-71.04 -5.55M-60.50 -5.83L-60.50 -6.11L-59.39 -7.22L-58.28 -7.77L-56.61 -7.77L-55.50 -7.22L-54.39 -6.11L-53.84 -4.44L-53.84 -3.33L-54.39 -1.67L-55.50 -0.56L-56.61 0.00L-58.28 0.00L-59.39 -0.56L-60.50 -1.67L-61.05 -3.33L-61.05 -4.44ZM-34.97 -1.67L-36.08 -0.56L-37.19 0.00L-38.85 0.00L-39.96 -0.56L-41.07 -1.67L-41.63 -3.33L-41.63 -4.44L-41.07 -6.11L-39.96 -7.22L-38.85 -7.77L-37.19 -7.77L-36.08 -7.22L-34.97 -6.11M-24.98 -1.67L-26.09 -0.56L-27.20 0.00L-28.86 0.00L-29.97 -0.56L-31.08 -1.67L-31.64 -3.33L-31.64 -4.44L-31.08 -6.11L-29.97 -7.22L-28.86 -7.77L-27.20 -7.77L-26.09 -7.22L-24.98 -6.11M-24.98 -1.67L-24.98 0.00M-24.98 -1.67L-24.98 -6.11M-24.98 -6.11L-24.98 -7.77M-20.54 -1.67L-19.43 -0.56L-18.32 0.00L-16.65 0.00L-15.54 -0.56L-14.43 -1.67L-13.88 -3.33L-13.88 -4.44L-14.43 -6.11L-15.54 -7.22L-16.65 -7.77L-18.32 -7.77L-19.43 -7.22L-20.54 -6.11M-20.54 -1.67L-20.54 3.89M-20.54 -1.67L-20.54 -6.11M-20.54 -7.77L-20.54 -6.11M-7.22 -7.77L-9.44 -7.77M-6.66 0.00L-7.77 0.00L-8.88 -0.56L-9.44 -2.22L-9.44 -7.77M-11.10 -7.77L-9.44 -7.77M-9.44 -7.77L-9.44 -11.66M2.77 -2.22L1.11 -0.56L0.00 0.00L-1.67 0.00L-2.78 -0.56L-3.33 -2.22L-3.33 -7.77M2.77 -2.22L2.77 0.00M2.77 -2.22L2.77 -7.77M11.65 -7.77L9.99 -7.77L8.88 -7.22L7.77 -6.11L7.21 -4.72M7.21 -7.77L7.21 -4.72M7.21 0.00L7.21 -4.44M20.54 -1.67L19.42 -0.56L18.31 0.00L16.65 0.00L15.54 -0.56L14.43 -1.67L13.87 -3.33L13.87 -4.44M13.87 -4.44L20.54 -4.44L20.54 -5.55L19.98 -6.66L19.42 -7.22L18.31 -7.77L16.65 -7.77L15.54 -7.22L14.43 -6.11ZM37.74 -7.77L36.08 -7.77L34.96 -7.22L33.86 -6.11L33.30 -4.72M33.30 -7.77L33.30 -4.72M33.30 0.00L33.30 -4.44M46.62 -1.67L45.51 -0.56L44.40 0.00L42.73 0.00L41.62 -0.56L40.52 -1.67L39.96 -3.33L39.96 -4.44L40.52 -6.11L41.62 -7.22L42.73 -7.77L44.40 -7.77L45.51 -7.22L46.62 -6.11M46.62 -1.67L46.62 0.00M46.62 -1.67L46.62 -6.11M46.62 -6.11L46.62 -7.77M53.83 -7.77L51.61 -7.77M54.39 0.00L53.28 0.00L52.17 -0.56L51.61 -2.22L51.61 -7.77M49.95 -7.77L51.61 -7.77M51.61 -7.77L51.61 -11.66M63.83 -1.67L62.71 -0.56L61.61 0.00L59.94 0.00L58.83 -0.56L57.72 -1.67L57.17 -3.33L57.17 -4.44M57.17 -4.44L63.83 -4.44L63.83 -5.55L63.27 -6.66L62.71 -7.22L61.61 -7.77L59.94 -7.77L58.83 -7.22L57.72 -6.11ZM80.48 -13.88L79.36 -12.77L78.26 -11.10L77.14 -8.88L76.59 -6.11L76.59 -3.89L77.14 -1.11L78.26 1.11L79.36 2.78L80.48 3.89M88.24 -11.66L86.58 -9.99L85.47 -9.44M88.24 -11.66L88.24 0.00M94.35 3.89L104.34 -13.88M113.22 -6.11L112.67 -7.22L111.00 -7.77L109.33 -7.77L107.67 -7.22L107.11 -6.11L107.67 -5.00L108.78 -4.44L111.55 -3.89L112.67 -3.33L113.22 -2.22L113.22 -1.67L112.67 -0.56L111.00 0.00L109.33 0.00L107.67 -0.56L107.11 -1.67M116.55 3.89L117.66 2.78L118.77 1.11L119.88 -1.11L120.44 -3.89L120.44 -6.11L119.88 -8.88L118.77 -11.10L117.66 -12.77L116.55 -13.88" fill="none" stroke="#000" stroke-width="1.50" stroke-linecap="butt" stroke-linejoin="round"/>
<path transform="translate(35.50 417.20) rotate(-90)" d="M-58.55 -7.77L-58.55 -5.55M-52.45 0.00L-52.45 -5.55M-46.34 0.00L-46.34 -5.55L-46.90 -7.22L-48.01 -7.77L-49.67 -7.77L-50.78 -7.22L-52.45 -5.55M-58.55 0.00L-58.55 -5.55M-52.45 -5.55L-53.00 -7.22L-54.11 -7.77L-55.78 -7.77L-56.89 -7.22L-58.55 -5.55M-35.80 -1.67L-36.91 -0.56L-38.02 0.00L-39.68 0.00L-40.79 -0.56L-41.90 -1.67L-42.46 -3.33L-42.46 -4.44L-41.90 -6.11L-40.79 -7.22L-39.68 -7.77L-38.02 -7.77L-36.91 -7.22L-35.80 -6.11M-35.80 -1.67L-35.80 0.00M-35.80 -1.67L-35.80 -6.11M-35.80 -6.11L-35.80 -7.77M-25.81 -6.11L-26.36 -7.22L-28.03 -7.77L-29.69 -7.77L-31.36 -7.22L-31.91 -6.11L-31.36 -5.00L-30.25 -4.44L-27.47 -3.89L-26.36 -3.33L-25.81 -2.22L-25.81 -1.67L-26.36 -0.56L-28.03 0.00L-29.69 0.00L-31.36 -0.56L-31.91 -1.67M-16.37 -6.11L-16.93 -7.22L-18.59 -7.77L-20.26 -7.77L-21.92 -7.22L-22.48 -6.11L-21.92 -5.00L-20.81 -4.44L-18.04 -3.89L-16.93 -3.33L-16.37 -2.22L-16.37 -1.67L-16.93 -0.56L-18.59 0.00L-20.26 0.00L-21.92 -0.56L-22.48 -1.67M-0.83 -7.77L-3.05 -7.77M-4.72 -7.77L-3.05 -7.77M-3.05 0.00L-3.05 -7.77M-0.28 -11.66L-1.39 -11.66L-2.50 -11.10L-3.05 -9.44L-3.05 -7.77M7.49 -7.77L5.83 -7.77L4.72 -7.22L3.61 -6.11L3.05 -4.72M3.05 -7.77L3.05 -4.72M3.05 0.00L3.05 -4.44M16.37 -1.67L15.26 -0.56L14.15 0.00L12.49 0.00L11.38 -0.56L10.27 -1.67L9.71 -3.33L9.71 -4.44L10.27 -6.11L11.38 -7.22L12.49 -7.77L14.15 -7.77L15.26 -7.22L16.37 -6.11M16.37 -1.67L16.37 0.00M16.37 -1.67L16.37 -6.11M16.37 -6.11L16.37 -7.77M26.92 -1.67L25.81 -0.56L24.70 0.00L23.03 0.00L21.92 -0.56L20.81 -1.67L20.26 -3.33L20.26 -4.44L20.81 -6.11L21.92 -7.22L23.03 -7.77L24.70 -7.77L25.81 -7.22L26.92 -6.11M33.58 -7.77L31.36 -7.77M34.13 0.00L33.02 0.00L31.91 -0.56L31.36 -2.22L31.36 -7.77M29.69 -7.77L31.36 -7.77M31.36 -7.77L31.36 -11.66M37.46 0.00L37.46 -7.77M37.19 -11.93L37.46 -12.21L38.02 -11.66L37.46 -11.10L36.91 -11.66ZM41.90 -5.83L41.90 -6.11L43.01 -7.22L44.12 -7.77L45.79 -7.77L46.90 -7.22L48.01 -6.11L48.56 -4.44L48.56 -3.33L48.01 -1.67L46.90 -0.56L45.79 0.00L44.12 0.00L43.01 -0.56L41.90 -1.67L41.35 -3.33L41.35 -4.44ZM52.45 0.00L52.45 -5.55M52.45 -7.77L52.45 -5.55M58.55 0.00L58.55 -5.55L58.00 -7.22L56.89 -7.77L55.22 -7.77L54.11 -7.22L52.45 -5.55" fill="none" stroke="#000" stroke-width="1.50" stroke-linecap="butt" stroke-linejoin="round"/>
</svg></body></html>
